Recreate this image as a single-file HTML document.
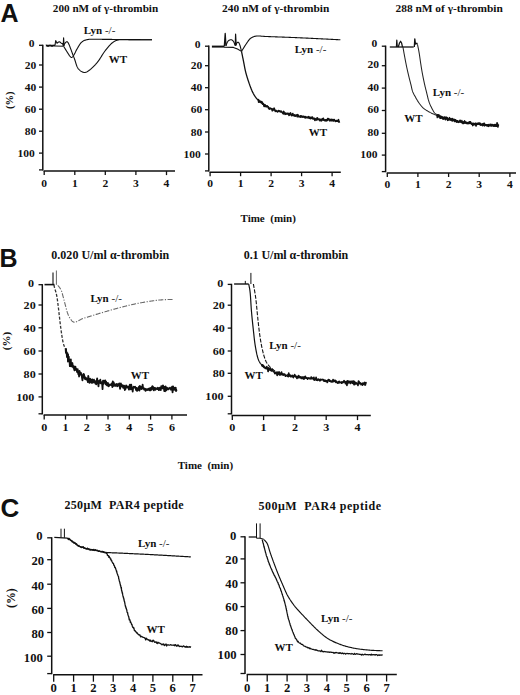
<!DOCTYPE html>
<html><head><meta charset="utf-8"><style>
html,body{margin:0;padding:0;background:#fff;}
svg{display:block;}
text{fill:#111;}
</style></head><body>
<svg width="520" height="695" viewBox="0 0 520 695">
<rect width="520" height="695" fill="#fff"/>
<text x="0.5" y="22.0" font-size="25" font-weight="bold" font-family='"Liberation Sans", sans-serif' text-anchor="start" >A</text>
<text x="-0.5" y="266.6" font-size="25" font-weight="bold" font-family='"Liberation Sans", sans-serif' text-anchor="start" >B</text>
<text x="0.4" y="516.9" font-size="26" font-weight="bold" font-family='"Liberation Sans", sans-serif' text-anchor="start" >C</text>
<line x1="42.8" y1="44.7" x2="42.8" y2="170.5" stroke="#111" stroke-width="1.5"/>
<line x1="39.0" y1="45.3" x2="42.8" y2="45.3" stroke="#111" stroke-width="1.3"/>
<text x="34.5" y="47.4" font-size="10.5" font-weight="bold" font-family='"Liberation Serif", serif' text-anchor="end" textLength="5.78" lengthAdjust="spacingAndGlyphs">0</text>
<line x1="39.0" y1="65.0" x2="42.8" y2="65.0" stroke="#111" stroke-width="1.3"/>
<text x="36.2" y="68.6" font-size="10.5" font-weight="bold" font-family='"Liberation Serif", serif' text-anchor="end" textLength="11.55" lengthAdjust="spacingAndGlyphs">20</text>
<line x1="39.0" y1="87.1" x2="42.8" y2="87.1" stroke="#111" stroke-width="1.3"/>
<text x="36.2" y="90.7" font-size="10.5" font-weight="bold" font-family='"Liberation Serif", serif' text-anchor="end" textLength="11.55" lengthAdjust="spacingAndGlyphs">40</text>
<line x1="39.0" y1="109.2" x2="42.8" y2="109.2" stroke="#111" stroke-width="1.3"/>
<text x="36.2" y="112.8" font-size="10.5" font-weight="bold" font-family='"Liberation Serif", serif' text-anchor="end" textLength="11.55" lengthAdjust="spacingAndGlyphs">60</text>
<line x1="39.0" y1="131.2" x2="42.8" y2="131.2" stroke="#111" stroke-width="1.3"/>
<text x="36.2" y="134.8" font-size="10.5" font-weight="bold" font-family='"Liberation Serif", serif' text-anchor="end" textLength="11.55" lengthAdjust="spacingAndGlyphs">80</text>
<line x1="39.0" y1="153.1" x2="42.8" y2="153.1" stroke="#111" stroke-width="1.3"/>
<text x="34.8" y="156.7" font-size="10.5" font-weight="bold" font-family='"Liberation Serif", serif' text-anchor="end" textLength="17.33" lengthAdjust="spacingAndGlyphs">100</text>
<line x1="39.0" y1="169.9" x2="42.8" y2="169.9" stroke="#111" stroke-width="1.3"/>
<line x1="43.6" y1="171.1" x2="175.0" y2="171.1" stroke="#111" stroke-width="1.5"/>
<line x1="44.2" y1="171.1" x2="44.2" y2="175.1" stroke="#111" stroke-width="1.3"/>
<text x="44.2" y="186.6" font-size="10.5" font-weight="bold" font-family='"Liberation Serif", serif' text-anchor="middle" textLength="5.78" lengthAdjust="spacingAndGlyphs">0</text>
<line x1="74.8" y1="171.1" x2="74.8" y2="175.1" stroke="#111" stroke-width="1.3"/>
<text x="74.8" y="186.6" font-size="10.5" font-weight="bold" font-family='"Liberation Serif", serif' text-anchor="middle" textLength="5.78" lengthAdjust="spacingAndGlyphs">1</text>
<line x1="105.3" y1="171.1" x2="105.3" y2="175.1" stroke="#111" stroke-width="1.3"/>
<text x="105.3" y="186.6" font-size="10.5" font-weight="bold" font-family='"Liberation Serif", serif' text-anchor="middle" textLength="5.78" lengthAdjust="spacingAndGlyphs">2</text>
<line x1="135.9" y1="171.1" x2="135.9" y2="175.1" stroke="#111" stroke-width="1.3"/>
<text x="135.9" y="186.6" font-size="10.5" font-weight="bold" font-family='"Liberation Serif", serif' text-anchor="middle" textLength="5.78" lengthAdjust="spacingAndGlyphs">3</text>
<line x1="166.5" y1="171.1" x2="166.5" y2="175.1" stroke="#111" stroke-width="1.3"/>
<text x="166.5" y="186.6" font-size="10.5" font-weight="bold" font-family='"Liberation Serif", serif' text-anchor="middle" textLength="5.78" lengthAdjust="spacingAndGlyphs">4</text>
<line x1="208.8" y1="45.6" x2="208.8" y2="171.5" stroke="#111" stroke-width="1.5"/>
<line x1="205.0" y1="46.2" x2="208.8" y2="46.2" stroke="#111" stroke-width="1.3"/>
<text x="200.5" y="48.3" font-size="10.5" font-weight="bold" font-family='"Liberation Serif", serif' text-anchor="end" textLength="5.78" lengthAdjust="spacingAndGlyphs">0</text>
<line x1="205.0" y1="65.7" x2="208.8" y2="65.7" stroke="#111" stroke-width="1.3"/>
<text x="202.2" y="69.3" font-size="10.5" font-weight="bold" font-family='"Liberation Serif", serif' text-anchor="end" textLength="11.55" lengthAdjust="spacingAndGlyphs">20</text>
<line x1="205.0" y1="87.7" x2="208.8" y2="87.7" stroke="#111" stroke-width="1.3"/>
<text x="202.2" y="91.3" font-size="10.5" font-weight="bold" font-family='"Liberation Serif", serif' text-anchor="end" textLength="11.55" lengthAdjust="spacingAndGlyphs">40</text>
<line x1="205.0" y1="109.7" x2="208.8" y2="109.7" stroke="#111" stroke-width="1.3"/>
<text x="202.2" y="113.3" font-size="10.5" font-weight="bold" font-family='"Liberation Serif", serif' text-anchor="end" textLength="11.55" lengthAdjust="spacingAndGlyphs">60</text>
<line x1="205.0" y1="132.0" x2="208.8" y2="132.0" stroke="#111" stroke-width="1.3"/>
<text x="202.2" y="135.6" font-size="10.5" font-weight="bold" font-family='"Liberation Serif", serif' text-anchor="end" textLength="11.55" lengthAdjust="spacingAndGlyphs">80</text>
<line x1="205.0" y1="154.0" x2="208.8" y2="154.0" stroke="#111" stroke-width="1.3"/>
<text x="200.8" y="157.6" font-size="10.5" font-weight="bold" font-family='"Liberation Serif", serif' text-anchor="end" textLength="17.33" lengthAdjust="spacingAndGlyphs">100</text>
<line x1="205.0" y1="170.9" x2="208.8" y2="170.9" stroke="#111" stroke-width="1.3"/>
<line x1="209.5" y1="172.2" x2="340.8" y2="172.2" stroke="#111" stroke-width="1.5"/>
<line x1="210.1" y1="172.2" x2="210.1" y2="176.2" stroke="#111" stroke-width="1.3"/>
<text x="210.1" y="187.3" font-size="10.5" font-weight="bold" font-family='"Liberation Serif", serif' text-anchor="middle" textLength="5.78" lengthAdjust="spacingAndGlyphs">0</text>
<line x1="240.6" y1="172.2" x2="240.6" y2="176.2" stroke="#111" stroke-width="1.3"/>
<text x="240.6" y="187.3" font-size="10.5" font-weight="bold" font-family='"Liberation Serif", serif' text-anchor="middle" textLength="5.78" lengthAdjust="spacingAndGlyphs">1</text>
<line x1="271.1" y1="172.2" x2="271.1" y2="176.2" stroke="#111" stroke-width="1.3"/>
<text x="271.1" y="187.3" font-size="10.5" font-weight="bold" font-family='"Liberation Serif", serif' text-anchor="middle" textLength="5.78" lengthAdjust="spacingAndGlyphs">2</text>
<line x1="301.6" y1="172.2" x2="301.6" y2="176.2" stroke="#111" stroke-width="1.3"/>
<text x="301.6" y="187.3" font-size="10.5" font-weight="bold" font-family='"Liberation Serif", serif' text-anchor="middle" textLength="5.78" lengthAdjust="spacingAndGlyphs">3</text>
<line x1="332.1" y1="172.2" x2="332.1" y2="176.2" stroke="#111" stroke-width="1.3"/>
<text x="332.1" y="187.3" font-size="10.5" font-weight="bold" font-family='"Liberation Serif", serif' text-anchor="middle" textLength="5.78" lengthAdjust="spacingAndGlyphs">4</text>
<line x1="385.6" y1="45.6" x2="385.6" y2="172.2" stroke="#111" stroke-width="1.5"/>
<line x1="381.8" y1="46.2" x2="385.6" y2="46.2" stroke="#111" stroke-width="1.3"/>
<text x="377.3" y="47.3" font-size="10.5" font-weight="bold" font-family='"Liberation Serif", serif' text-anchor="end" textLength="5.78" lengthAdjust="spacingAndGlyphs">0</text>
<line x1="381.8" y1="65.7" x2="385.6" y2="65.7" stroke="#111" stroke-width="1.3"/>
<text x="379.0" y="68.3" font-size="10.5" font-weight="bold" font-family='"Liberation Serif", serif' text-anchor="end" textLength="11.55" lengthAdjust="spacingAndGlyphs">20</text>
<line x1="381.8" y1="88.1" x2="385.6" y2="88.1" stroke="#111" stroke-width="1.3"/>
<text x="379.0" y="90.7" font-size="10.5" font-weight="bold" font-family='"Liberation Serif", serif' text-anchor="end" textLength="11.55" lengthAdjust="spacingAndGlyphs">40</text>
<line x1="381.8" y1="110.5" x2="385.6" y2="110.5" stroke="#111" stroke-width="1.3"/>
<text x="379.0" y="113.1" font-size="10.5" font-weight="bold" font-family='"Liberation Serif", serif' text-anchor="end" textLength="11.55" lengthAdjust="spacingAndGlyphs">60</text>
<line x1="381.8" y1="133.3" x2="385.6" y2="133.3" stroke="#111" stroke-width="1.3"/>
<text x="379.0" y="135.9" font-size="10.5" font-weight="bold" font-family='"Liberation Serif", serif' text-anchor="end" textLength="11.55" lengthAdjust="spacingAndGlyphs">80</text>
<line x1="381.8" y1="155.1" x2="385.6" y2="155.1" stroke="#111" stroke-width="1.3"/>
<text x="377.6" y="157.7" font-size="10.5" font-weight="bold" font-family='"Liberation Serif", serif' text-anchor="end" textLength="17.33" lengthAdjust="spacingAndGlyphs">100</text>
<line x1="381.8" y1="171.6" x2="385.6" y2="171.6" stroke="#111" stroke-width="1.3"/>
<line x1="386.7" y1="173.0" x2="516.0" y2="173.0" stroke="#111" stroke-width="1.5"/>
<line x1="387.3" y1="173.0" x2="387.3" y2="177.0" stroke="#111" stroke-width="1.3"/>
<text x="387.3" y="188.4" font-size="10.5" font-weight="bold" font-family='"Liberation Serif", serif' text-anchor="middle" textLength="5.78" lengthAdjust="spacingAndGlyphs">0</text>
<line x1="417.9" y1="173.0" x2="417.9" y2="177.0" stroke="#111" stroke-width="1.3"/>
<text x="417.9" y="188.4" font-size="10.5" font-weight="bold" font-family='"Liberation Serif", serif' text-anchor="middle" textLength="5.78" lengthAdjust="spacingAndGlyphs">1</text>
<line x1="448.6" y1="173.0" x2="448.6" y2="177.0" stroke="#111" stroke-width="1.3"/>
<text x="448.6" y="188.4" font-size="10.5" font-weight="bold" font-family='"Liberation Serif", serif' text-anchor="middle" textLength="5.78" lengthAdjust="spacingAndGlyphs">2</text>
<line x1="479.2" y1="173.0" x2="479.2" y2="177.0" stroke="#111" stroke-width="1.3"/>
<text x="479.2" y="188.4" font-size="10.5" font-weight="bold" font-family='"Liberation Serif", serif' text-anchor="middle" textLength="5.78" lengthAdjust="spacingAndGlyphs">3</text>
<line x1="509.9" y1="173.0" x2="509.9" y2="177.0" stroke="#111" stroke-width="1.3"/>
<text x="509.9" y="188.4" font-size="10.5" font-weight="bold" font-family='"Liberation Serif", serif' text-anchor="middle" textLength="5.78" lengthAdjust="spacingAndGlyphs">4</text>
<text x="0" y="0" font-size="10.5" font-weight="bold" font-family='"Liberation Serif", serif' text-anchor="middle" transform="translate(9.0,100.3) rotate(-90)" dominant-baseline="central">(%)</text>
<text x="52.8" y="12.4" font-size="11.2" font-weight="bold" font-family='"Liberation Serif", serif' text-anchor="start" >200 nM of γ-thrombin</text>
<text x="222.0" y="12.0" font-size="11.4" font-weight="bold" font-family='"Liberation Serif", serif' text-anchor="start" >240 nM of γ-thrombin</text>
<text x="395.5" y="12.0" font-size="11.4" font-weight="bold" font-family='"Liberation Serif", serif' text-anchor="start" >288 nM of γ-thrombin</text>
<text x="240.5" y="221.6" font-size="11" font-weight="bold" font-family='"Liberation Serif", serif' text-anchor="start" >Time&#160;&#160;(min)</text>
<path d="M45.90,45.70 L55.10,45.60" fill="none" stroke="#111" stroke-width="1.8" stroke-linejoin="round"/>
<path d="M45.90,44.80 L48.00,46.60 L50.00,44.90 L52.00,46.50 L54.00,45.00 L55.10,45.80" fill="none" stroke="#111" stroke-width="1.0" stroke-linejoin="round"/>
<path d="M55.10,46.00 L63.60,46.20" fill="none" stroke="#111" stroke-width="1.1" stroke-linejoin="round"/>
<path d="M55.00,45.30 L55.70,40.60 L57.00,43.20 L58.50,42.00 L59.80,41.80 L61.20,43.20 L62.60,43.60 L63.30,45.20" fill="none" stroke="#111" stroke-width="1.1" stroke-linejoin="round"/>
<path d="M63.20,46.00 L63.60,37.90 L64.10,46.00" fill="none" stroke="#111" stroke-width="1.1" stroke-linejoin="round"/>
<path d="M63.60,45.50 L63.86,45.07 L64.23,44.45 L64.66,43.75 L65.10,43.09 L65.50,42.60 L66.08,42.05 L66.63,41.73 L67.20,41.80 L67.52,42.00 L67.82,42.29 L68.14,42.75 L68.52,43.46 L69.00,44.50 L69.17,44.90 L69.36,45.35 L69.56,45.85 L69.78,46.39 L70.00,46.97 L70.23,47.58 L70.47,48.21 L70.72,48.86 L70.96,49.52 L71.20,50.17 L71.44,50.82 L71.68,51.46 L71.91,52.07 L72.12,52.66 L72.33,53.22 L72.52,53.73 L72.70,54.20 L72.99,54.96 L73.23,55.61 L73.44,56.16 L73.63,56.67 L73.82,57.15 L74.00,57.64 L74.20,58.17 L74.43,58.78 L74.70,59.50 L74.88,59.99 L75.06,60.53 L75.24,61.11 L75.42,61.72 L75.61,62.35 L75.81,62.99 L76.01,63.65 L76.22,64.30 L76.44,64.95 L76.67,65.59 L76.91,66.20 L77.16,66.78 L77.42,67.34 L77.70,67.84 L78.00,68.30 L78.43,68.87 L78.90,69.42 L79.40,69.93 L79.93,70.41 L80.47,70.85 L81.02,71.24 L81.59,71.59 L82.15,71.88 L82.71,72.11 L83.26,72.29 L83.80,72.40 L84.37,72.45 L84.92,72.43 L85.47,72.34 L86.01,72.18 L86.56,71.96 L87.11,71.68 L87.69,71.34 L88.29,70.95 L88.93,70.50 L89.60,70.00 L89.97,69.71 L90.36,69.40 L90.76,69.06 L91.18,68.71 L91.60,68.33 L92.03,67.94 L92.47,67.53 L92.91,67.11 L93.36,66.67 L93.81,66.22 L94.26,65.77 L94.71,65.30 L95.15,64.82 L95.60,64.34 L96.03,63.86 L96.46,63.37 L96.89,62.88 L97.30,62.39 L97.70,61.90 L98.07,61.43 L98.44,60.94 L98.80,60.44 L99.16,59.93 L99.51,59.41 L99.86,58.87 L100.20,58.33 L100.55,57.79 L100.89,57.24 L101.23,56.69 L101.56,56.14 L101.90,55.60 L102.23,55.05 L102.57,54.52 L102.90,53.99 L103.24,53.46 L103.58,52.95 L103.92,52.45 L104.26,51.97 L104.60,51.50 L105.01,50.96 L105.42,50.42 L105.83,49.88 L106.25,49.35 L106.66,48.83 L107.08,48.31 L107.50,47.80 L107.91,47.30 L108.33,46.81 L108.74,46.34 L109.15,45.88 L109.55,45.44 L109.95,45.01 L110.35,44.60 L110.74,44.21 L111.12,43.84 L111.50,43.50 L112.06,43.01 L112.60,42.58 L113.11,42.19 L113.61,41.84 L114.10,41.53 L114.60,41.25 L115.10,41.00 L115.61,40.78 L116.14,40.57 L116.71,40.38 L117.30,40.20 L117.81,40.05 L118.25,39.93 L118.64,39.84 L119.01,39.77 L119.40,39.72 L119.82,39.68 L120.33,39.66 L120.93,39.64 L121.67,39.63 L122.58,39.62 L123.68,39.61 L125.00,39.60 L125.40,39.60 L125.83,39.59 L126.30,39.59 L126.79,39.59 L127.30,39.59 L127.84,39.59 L128.41,39.59 L128.99,39.59 L129.60,39.59 L130.22,39.59 L130.86,39.60 L131.52,39.60 L132.19,39.61 L132.88,39.61 L133.57,39.61 L134.27,39.62 L134.99,39.63 L135.71,39.63 L136.43,39.64 L137.16,39.64 L137.89,39.65 L138.62,39.66 L139.35,39.67 L140.07,39.67 L140.79,39.68 L141.51,39.69 L142.22,39.70 L142.92,39.70 L143.61,39.71 L144.29,39.72 L144.95,39.73 L145.60,39.73 L146.23,39.74 L146.85,39.75 L147.44,39.75 L148.02,39.76 L148.57,39.77 L149.10,39.77 L149.60,39.78 L150.08,39.78 L150.53,39.79 L150.94,39.79 L151.33,39.79 L151.68,39.80 L152.00,39.80" fill="none" stroke="#111" stroke-width="1.1" stroke-linejoin="round"/>
<path d="M63.60,46.30 L63.80,46.62 L64.05,47.03 L64.35,47.52 L64.69,48.06 L65.05,48.65 L65.43,49.26 L65.81,49.88 L66.19,50.49 L66.56,51.07 L66.90,51.60 L67.27,52.18 L67.64,52.78 L68.01,53.39 L68.39,53.99 L68.76,54.57 L69.12,55.11 L69.46,55.61 L69.79,56.04 L70.10,56.40 L70.87,57.13 L71.51,57.41 L72.20,57.20 L72.54,56.92 L72.89,56.52 L73.26,56.01 L73.63,55.43 L74.00,54.82 L74.36,54.19 L74.70,53.60 L74.97,53.11 L75.21,52.61 L75.44,52.12 L75.67,51.61 L75.91,51.07 L76.19,50.49 L76.51,49.88 L76.90,49.20 L77.17,48.74 L77.46,48.23 L77.77,47.69 L78.10,47.12 L78.44,46.54 L78.79,45.94 L79.16,45.35 L79.53,44.76 L79.92,44.20 L80.31,43.66 L80.70,43.16 L81.10,42.70 L81.50,42.30 L82.02,41.85 L82.55,41.45 L83.08,41.11 L83.62,40.80 L84.18,40.54 L84.76,40.31 L85.35,40.10 L85.97,39.92 L86.62,39.75 L87.30,39.60 L87.80,39.50 L88.25,39.42 L88.67,39.36 L89.08,39.31 L89.50,39.29 L89.94,39.27 L90.43,39.27 L90.98,39.27 L91.62,39.28 L92.36,39.29 L93.22,39.29 L94.23,39.30 L95.40,39.30 L95.81,39.30 L96.23,39.30 L96.66,39.30 L97.11,39.30 L97.58,39.30 L98.05,39.30 L98.54,39.30 L99.04,39.31 L99.56,39.31 L100.08,39.31 L100.62,39.32 L101.17,39.32 L101.73,39.32 L102.29,39.33 L102.87,39.33 L103.46,39.34 L104.06,39.34 L104.66,39.35 L105.27,39.35 L105.89,39.36 L106.52,39.37 L107.16,39.37 L107.80,39.38 L108.44,39.38 L109.10,39.39 L109.76,39.40 L110.42,39.41 L111.09,39.41 L111.76,39.42 L112.43,39.43 L113.11,39.43 L113.79,39.44 L114.48,39.45 L115.17,39.45 L115.85,39.46 L116.54,39.47 L117.24,39.47 L117.93,39.48 L118.62,39.49 L119.31,39.49 L120.00,39.50 L120.54,39.50 L121.10,39.51 L121.67,39.51 L122.26,39.52 L122.86,39.53 L123.48,39.53 L124.10,39.54 L124.74,39.54 L125.38,39.55 L126.04,39.55 L126.71,39.56 L127.38,39.57 L128.06,39.57 L128.75,39.58 L129.44,39.59 L130.13,39.59 L130.83,39.60 L131.54,39.61 L132.24,39.61 L132.95,39.62 L133.66,39.63 L134.37,39.63 L135.08,39.64 L135.78,39.65 L136.49,39.65 L137.19,39.66 L137.89,39.67 L138.58,39.67 L139.26,39.68 L139.94,39.69 L140.62,39.69 L141.28,39.70 L141.94,39.70 L142.58,39.71 L143.22,39.72 L143.85,39.72 L144.46,39.73 L145.06,39.73 L145.65,39.74 L146.22,39.75 L146.78,39.75 L147.32,39.76 L147.84,39.76 L148.35,39.77 L148.84,39.77 L149.31,39.77 L149.76,39.78 L150.19,39.78 L150.60,39.79 L150.98,39.79 L151.35,39.79 L151.69,39.80 L152.00,39.80" fill="none" stroke="#111" stroke-width="1.1" stroke-linejoin="round"/>
<text x="83.8" y="34.3" font-size="11" font-family='"Liberation Serif", serif' ><tspan font-weight="bold">Lyn</tspan> -/-</text>
<text x="108.8" y="62.7" font-size="11" font-weight="bold" font-family='"Liberation Serif", serif' text-anchor="start" >WT</text>
<path d="M211.90,46.60 L224.00,46.60" fill="none" stroke="#111" stroke-width="2.0" stroke-linejoin="round"/>
<path d="M224.30,46.50 L225.20,33.50 L226.00,46.00" fill="none" stroke="#111" stroke-width="1.3" stroke-linejoin="round"/>
<path d="M224.00,47.20 L233.40,47.40 L237.50,49.00 L241.50,51.40" fill="none" stroke="#111" stroke-width="1.1" stroke-linejoin="round"/>
<path d="M226.00,45.50 L226.17,45.09 L226.40,44.50 L226.66,43.81 L226.97,43.07 L227.30,42.35 L227.64,41.70 L228.00,41.20 L228.54,40.67 L229.15,40.24 L229.79,39.93 L230.42,39.74 L231.00,39.70 L231.55,39.82 L232.08,40.10 L232.60,40.50 L233.07,40.98 L233.50,41.50 L233.83,42.03 L234.13,42.67 L234.41,43.36 L234.65,44.03 L234.85,44.60 L235.00,45.00" fill="none" stroke="#111" stroke-width="1.1" stroke-linejoin="round"/>
<path d="M235.20,46.00 L235.60,34.20 L236.20,45.50" fill="none" stroke="#111" stroke-width="1.2" stroke-linejoin="round"/>
<path d="M235.80,45.00 L236.01,44.56 L236.31,43.93 L236.65,43.28 L237.00,42.80 L237.73,42.21 L238.50,42.30 L238.80,42.66 L239.10,43.18 L239.40,43.85 L239.70,44.63 L240.00,45.50 L240.16,46.01 L240.32,46.60 L240.50,47.26 L240.67,47.95 L240.84,48.65 L241.01,49.34 L241.16,49.98 L241.30,50.55 L241.41,51.04 L241.50,51.40" fill="none" stroke="#111" stroke-width="1.1" stroke-linejoin="round"/>
<path d="M241.50,51.40 L241.69,51.10 L241.92,50.72 L242.19,50.29 L242.49,49.80 L242.81,49.26 L243.16,48.69 L243.53,48.10 L243.91,47.49 L244.30,46.87 L244.69,46.25 L245.07,45.64 L245.45,45.05 L245.82,44.49 L246.17,43.97 L246.50,43.50 L246.92,42.90 L247.32,42.31 L247.71,41.73 L248.10,41.18 L248.48,40.64 L248.86,40.13 L249.25,39.64 L249.66,39.18 L250.08,38.75 L250.53,38.36 L251.00,38.00 L251.49,37.68 L252.00,37.39 L252.51,37.13 L253.04,36.91 L253.58,36.71 L254.14,36.54 L254.72,36.40 L255.32,36.27 L255.95,36.16 L256.61,36.07 L257.30,36.00 L257.78,35.96 L258.19,35.94 L258.57,35.93 L258.91,35.93 L259.25,35.95 L259.60,35.98 L259.99,36.02 L260.43,36.07 L260.93,36.12 L261.53,36.18 L262.23,36.24 L263.06,36.31 L264.03,36.37 L265.18,36.44 L266.50,36.50 L266.90,36.52 L267.30,36.53 L267.73,36.55 L268.16,36.57 L268.61,36.59 L269.07,36.60 L269.54,36.62 L270.02,36.64 L270.51,36.66 L271.02,36.68 L271.53,36.70 L272.06,36.72 L272.60,36.74 L273.14,36.76 L273.70,36.78 L274.26,36.80 L274.83,36.82 L275.42,36.84 L276.01,36.86 L276.60,36.88 L277.21,36.91 L277.82,36.93 L278.44,36.95 L279.06,36.97 L279.70,37.00 L280.33,37.02 L280.98,37.04 L281.62,37.07 L282.28,37.09 L282.94,37.12 L283.60,37.14 L284.27,37.17 L284.94,37.19 L285.61,37.22 L286.29,37.24 L286.97,37.27 L287.65,37.29 L288.33,37.32 L289.02,37.35 L289.71,37.37 L290.40,37.40 L291.09,37.43 L291.78,37.45 L292.47,37.48 L293.16,37.51 L293.85,37.54 L294.54,37.57 L295.23,37.59 L295.92,37.62 L296.60,37.65 L297.29,37.68 L297.97,37.71 L298.65,37.74 L299.33,37.77 L300.00,37.80 L300.56,37.83 L301.13,37.85 L301.71,37.88 L302.30,37.90 L302.90,37.93 L303.51,37.96 L304.13,37.99 L304.76,38.02 L305.40,38.05 L306.04,38.08 L306.69,38.11 L307.35,38.14 L308.02,38.17 L308.69,38.21 L309.37,38.24 L310.05,38.27 L310.73,38.31 L311.42,38.34 L312.12,38.37 L312.82,38.41 L313.52,38.44 L314.22,38.48 L314.92,38.51 L315.63,38.55 L316.33,38.58 L317.04,38.62 L317.74,38.65 L318.45,38.69 L319.15,38.72 L319.85,38.76 L320.56,38.79 L321.25,38.83 L321.95,38.86 L322.64,38.90 L323.33,38.93 L324.01,38.97 L324.69,39.00 L325.36,39.04 L326.03,39.07 L326.69,39.10 L327.34,39.14 L327.99,39.17 L328.62,39.20 L329.25,39.23 L329.88,39.27 L330.49,39.30 L331.09,39.33 L331.68,39.36 L332.27,39.39 L332.84,39.42 L333.40,39.45 L333.95,39.47 L334.48,39.50 L335.00,39.53 L335.51,39.55 L336.01,39.58 L336.49,39.60 L336.95,39.63 L337.40,39.65 L337.84,39.67 L338.26,39.69 L338.66,39.71 L339.04,39.73 L339.41,39.75 L339.76,39.77 L340.09,39.78 L340.40,39.80" fill="none" stroke="#111" stroke-width="1.1" stroke-linejoin="round"/>
<path d="M241.50,51.40 L241.57,51.74 L241.65,52.15 L241.75,52.62 L241.86,53.14 L241.97,53.72 L242.10,54.33 L242.23,54.97 L242.37,55.64 L242.51,56.34 L242.65,57.04 L242.80,57.76 L242.95,58.47 L243.09,59.18 L243.23,59.87 L243.37,60.55 L243.50,61.20 L243.62,61.80 L243.74,62.40 L243.85,63.01 L243.96,63.62 L244.08,64.23 L244.19,64.85 L244.30,65.47 L244.42,66.09 L244.53,66.71 L244.65,67.33 L244.77,67.96 L244.90,68.58 L245.03,69.21 L245.16,69.83 L245.30,70.46 L245.45,71.08 L245.60,71.70 L245.75,72.29 L245.90,72.87 L246.06,73.46 L246.22,74.05 L246.38,74.64 L246.55,75.23 L246.72,75.81 L246.89,76.40 L247.07,76.99 L247.25,77.58 L247.43,78.17 L247.62,78.76 L247.81,79.35 L248.00,79.94 L248.20,80.53 L248.39,81.12 L248.60,81.71 L248.80,82.30 L249.00,82.86 L249.19,83.43 L249.40,84.01 L249.60,84.59 L249.81,85.17 L250.01,85.76 L250.23,86.34 L250.44,86.93 L250.66,87.51 L250.88,88.09 L251.10,88.66 L251.33,89.23 L251.56,89.79 L251.79,90.34 L252.03,90.88 L252.26,91.41 L252.51,91.92 L252.75,92.42 L253.00,92.90 L253.31,93.49 L253.63,94.06 L253.94,94.60 L254.25,95.13 L254.57,95.64 L254.89,96.14 L255.22,96.63 L255.56,97.11 L255.90,97.57 L256.26,98.03 L256.64,98.49 L257.02,98.94 L257.43,99.39 L257.85,99.85 L258.30,100.30 L258.73,100.71 L259.20,101.13 L259.70,101.56 L260.24,101.99 L260.80,102.43 L261.37,102.86 L261.96,103.29 L262.54,103.71 L263.12,104.12 L263.68,104.51 L264.23,104.89 L264.75,105.24 L265.24,105.57 L265.68,105.88 L266.08,106.15 L266.42,106.40 L266.70,106.60" fill="none" stroke="#111" stroke-width="1.3" stroke-linejoin="round"/>
<path d="M258.30,100.16 L258.50,99.78 L258.72,102.21 L258.97,101.05 L259.23,100.87 L259.53,101.23 L259.84,101.81 L260.17,101.30 L260.51,101.83 L260.88,102.30 L261.25,102.08 L261.64,101.77 L262.04,102.12 L262.45,103.61 L262.86,104.09 L263.28,103.71 L263.71,104.63 L264.14,106.33 L264.57,105.87 L265.00,104.93 L265.43,106.24 L265.86,106.48 L266.28,106.21 L266.70,106.61 L267.08,105.82 L267.47,106.53 L267.86,106.62 L268.25,107.01 L268.65,108.17 L269.05,108.71 L269.45,108.97 L269.86,108.10 L270.27,108.27 L270.68,108.40 L271.10,108.81 L271.52,108.96 L271.94,109.01 L272.37,110.68 L272.80,109.28 L273.24,109.78 L273.68,109.22 L274.12,108.28 L274.56,109.99 L275.01,110.34 L275.46,111.29 L275.92,110.51 L276.37,110.99 L276.84,111.27 L277.30,111.65 L277.70,111.79 L278.11,111.13 L278.53,110.71 L278.94,111.15 L279.37,110.95 L279.79,111.17 L280.22,111.91 L280.65,111.74 L281.09,111.16 L281.52,111.85 L281.96,112.15 L282.41,112.51 L282.85,113.14 L283.30,113.77 L283.74,111.52 L284.19,113.24 L284.64,113.28 L285.09,114.24 L285.54,113.11 L285.99,114.17 L286.44,113.75 L286.89,113.61 L287.34,113.47 L287.78,114.07 L288.23,113.43 L288.68,114.36 L289.12,115.27 L289.56,114.74 L290.00,113.56 L290.45,112.88 L290.91,114.64 L291.37,115.05 L291.83,115.57 L292.30,114.88 L292.76,113.70 L293.22,115.26 L293.69,115.56 L294.16,115.63 L294.62,114.85 L295.09,116.13 L295.55,115.92 L296.02,115.59 L296.48,115.04 L296.94,115.24 L297.40,116.64 L297.86,114.79 L298.32,116.69 L298.77,116.21 L299.22,116.28 L299.67,116.74 L300.12,116.99 L300.56,115.85 L301.00,115.82 L301.43,116.92 L301.86,116.23 L302.28,116.63 L302.70,117.00 L303.20,116.33 L303.68,116.56 L304.16,117.29 L304.62,116.68 L305.07,117.50 L305.52,116.80 L305.96,117.77 L306.39,117.16 L306.82,117.43 L307.25,117.16 L307.68,117.69 L308.11,117.77 L308.54,116.79 L308.97,117.01 L309.41,117.97 L309.86,117.33 L310.32,118.54 L310.78,117.82 L311.26,117.37 L311.75,118.21 L312.25,117.08 L312.77,118.60 L313.30,118.89 L313.70,118.40 L314.10,118.76 L314.51,118.40 L314.94,120.27 L315.37,118.92 L315.80,119.28 L316.25,119.55 L316.70,119.93 L317.15,117.98 L317.61,118.47 L318.08,119.39 L318.54,119.36 L319.02,119.59 L319.49,119.31 L319.96,120.63 L320.44,119.71 L320.91,119.33 L321.39,120.75 L321.86,119.97 L322.34,118.84 L322.81,119.70 L323.28,118.43 L323.75,120.08 L324.21,120.28 L324.67,120.58 L325.12,119.80 L325.57,119.79 L326.01,120.87 L326.44,120.33 L326.87,119.73 L327.29,120.39 L327.70,118.73 L328.22,119.55 L328.76,118.74 L329.30,120.01 L329.84,120.83 L330.38,119.89 L330.93,119.51 L331.48,120.60 L332.02,119.50 L332.56,120.46 L333.10,119.78 L333.63,120.85 L334.14,119.57 L334.65,120.40 L335.15,120.87 L335.63,121.22 L336.10,120.86 L336.54,120.66 L336.97,121.06 L337.38,120.98 L337.77,120.94 L338.13,121.23 L338.46,119.76 L338.77,121.18 L339.05,121.60 L339.30,122.72" fill="none" stroke="#111" stroke-width="1.8" stroke-linejoin="round"/>
<text x="294.8" y="52.9" font-size="11" font-family='"Liberation Serif", serif' ><tspan font-weight="bold">Lyn</tspan> -/-</text>
<text x="308.8" y="135.5" font-size="11" font-weight="bold" font-family='"Liberation Serif", serif' text-anchor="start" >WT</text>
<path d="M389.80,47.00 L413.70,47.00" fill="none" stroke="#111" stroke-width="1.3" stroke-linejoin="round"/>
<path d="M396.40,47.00 L396.80,40.10 L397.30,47.00" fill="none" stroke="#111" stroke-width="1.2" stroke-linejoin="round"/>
<path d="M398.30,47.00 L399.50,43.00 L400.60,41.20 L401.60,43.00 L402.50,47.00" fill="none" stroke="#111" stroke-width="1.2" stroke-linejoin="round"/>
<path d="M414.30,47.00 L414.80,38.90 L415.50,44.00 L416.80,43.20 L417.50,44.50" fill="none" stroke="#111" stroke-width="1.3" stroke-linejoin="round"/>
<path d="M402.90,46.80 L402.96,47.13 L403.03,47.54 L403.11,48.00 L403.20,48.51 L403.30,49.07 L403.40,49.67 L403.51,50.30 L403.63,50.96 L403.75,51.64 L403.87,52.33 L404.00,53.04 L404.12,53.74 L404.25,54.44 L404.38,55.13 L404.50,55.80 L404.60,56.36 L404.71,56.93 L404.82,57.51 L404.93,58.10 L405.04,58.70 L405.16,59.31 L405.28,59.92 L405.39,60.54 L405.51,61.16 L405.63,61.78 L405.75,62.40 L405.87,63.01 L406.00,63.63 L406.12,64.24 L406.24,64.84 L406.36,65.44 L406.48,66.02 L406.60,66.60 L406.73,67.24 L406.87,67.87 L407.01,68.50 L407.14,69.13 L407.28,69.75 L407.42,70.36 L407.56,70.97 L407.69,71.58 L407.83,72.18 L407.97,72.78 L408.11,73.38 L408.25,73.97 L408.39,74.56 L408.52,75.14 L408.66,75.72 L408.80,76.30 L408.96,76.96 L409.12,77.62 L409.28,78.27 L409.45,78.93 L409.61,79.58 L409.77,80.22 L409.94,80.86 L410.10,81.48 L410.26,82.10 L410.42,82.71 L410.57,83.31 L410.72,83.89 L410.86,84.45 L411.00,85.00 L411.18,85.74 L411.34,86.44 L411.49,87.12 L411.63,87.77 L411.77,88.41 L411.91,89.02 L412.06,89.63 L412.22,90.22 L412.40,90.81 L412.60,91.40 L412.82,91.98 L413.06,92.54 L413.31,93.09 L413.58,93.63 L413.85,94.16 L414.13,94.69 L414.42,95.21 L414.71,95.74 L415.00,96.26 L415.30,96.80 L415.59,97.34 L415.89,97.88 L416.19,98.42 L416.49,98.96 L416.80,99.50 L417.12,100.04 L417.44,100.58 L417.78,101.12 L418.13,101.66 L418.50,102.20 L418.85,102.70 L419.20,103.20 L419.56,103.72 L419.94,104.23 L420.32,104.74 L420.71,105.25 L421.11,105.75 L421.52,106.24 L421.94,106.72 L422.36,107.17 L422.80,107.60 L423.25,108.01 L423.71,108.40 L424.19,108.78 L424.68,109.15 L425.18,109.50 L425.68,109.84 L426.19,110.17 L426.70,110.49 L427.20,110.80 L427.70,111.10 L428.20,111.40 L428.75,111.72 L429.30,112.03 L429.87,112.33 L430.43,112.62 L430.99,112.89 L431.55,113.16 L432.09,113.41 L432.62,113.65 L433.12,113.88 L433.60,114.10 L434.38,114.44 L435.16,114.74 L435.89,115.02 L436.54,115.26 L437.09,115.45 L437.50,115.60" fill="none" stroke="#222" stroke-width="1.05" stroke-linejoin="round"/>
<path d="M417.50,44.50 L417.57,44.85 L417.66,45.27 L417.76,45.76 L417.87,46.31 L418.00,46.90 L418.13,47.54 L418.27,48.22 L418.41,48.92 L418.56,49.64 L418.70,50.38 L418.84,51.12 L418.97,51.87 L419.10,52.60 L419.19,53.13 L419.28,53.69 L419.37,54.26 L419.46,54.84 L419.54,55.44 L419.63,56.04 L419.72,56.65 L419.81,57.28 L419.90,57.90 L419.99,58.53 L420.08,59.16 L420.17,59.78 L420.26,60.40 L420.34,61.02 L420.43,61.63 L420.52,62.23 L420.61,62.82 L420.70,63.40 L420.80,64.03 L420.90,64.66 L420.99,65.27 L421.09,65.88 L421.18,66.48 L421.27,67.07 L421.37,67.66 L421.46,68.25 L421.56,68.84 L421.66,69.43 L421.76,70.02 L421.86,70.62 L421.96,71.23 L422.07,71.84 L422.18,72.47 L422.30,73.10 L422.41,73.68 L422.52,74.26 L422.63,74.86 L422.75,75.47 L422.87,76.08 L422.99,76.70 L423.12,77.32 L423.24,77.95 L423.37,78.57 L423.50,79.19 L423.62,79.81 L423.75,80.42 L423.88,81.03 L424.01,81.63 L424.13,82.21 L424.26,82.79 L424.38,83.35 L424.50,83.90 L424.65,84.58 L424.80,85.24 L424.95,85.89 L425.10,86.51 L425.25,87.13 L425.40,87.73 L425.55,88.33 L425.70,88.92 L425.85,89.51 L426.00,90.10 L426.15,90.69 L426.30,91.29 L426.45,91.89 L426.60,92.50 L426.75,93.12 L426.90,93.76 L427.06,94.40 L427.21,95.05 L427.36,95.69 L427.51,96.34 L427.66,96.99 L427.82,97.63 L427.97,98.26 L428.13,98.88 L428.29,99.49 L428.46,100.08 L428.63,100.65 L428.80,101.20 L429.02,101.87 L429.25,102.52 L429.49,103.14 L429.72,103.74 L429.97,104.32 L430.21,104.89 L430.46,105.44 L430.71,105.99 L430.97,106.53 L431.23,107.06 L431.50,107.60 L431.80,108.20 L432.11,108.80 L432.44,109.41 L432.76,110.00 L433.09,110.59 L433.42,111.15 L433.75,111.68 L434.08,112.17 L434.39,112.61 L434.70,113.00 L435.33,113.62 L435.98,114.07 L436.60,114.38 L437.13,114.61 L437.50,114.80" fill="none" stroke="#222" stroke-width="1.05" stroke-linejoin="round"/>
<path d="M437.00,115.74 L437.24,115.02 L437.54,115.99 L437.89,116.09 L438.29,115.56 L438.72,114.81 L439.18,115.85 L439.67,116.34 L440.17,118.22 L440.68,117.94 L441.20,118.22 L441.58,116.89 L441.96,117.56 L442.37,117.14 L442.78,118.66 L443.21,118.99 L443.64,117.39 L444.08,118.76 L444.53,118.50 L444.98,116.97 L445.44,119.56 L445.91,119.07 L446.37,117.64 L446.84,117.82 L447.30,118.46 L447.73,120.27 L448.15,119.82 L448.57,119.71 L448.99,119.48 L449.41,118.04 L449.83,118.86 L450.26,119.96 L450.70,119.78 L451.15,119.83 L451.61,120.08 L452.09,118.54 L452.58,120.56 L453.10,120.34 L453.64,120.36 L454.20,120.12 L454.59,121.43 L454.99,121.54 L455.41,119.76 L455.84,121.21 L456.28,120.97 L456.74,121.51 L457.20,120.91 L457.68,121.13 L458.16,122.13 L458.64,122.30 L459.13,121.45 L459.61,121.26 L460.10,121.82 L460.58,121.87 L461.07,121.85 L461.54,122.36 L462.01,122.15 L462.47,122.19 L462.93,123.30 L463.37,123.32 L463.79,122.32 L464.20,123.09 L464.60,122.12 L465.14,122.39 L465.65,123.04 L466.14,122.93 L466.60,123.34 L467.05,122.80 L467.48,123.26 L467.91,123.64 L468.33,123.48 L468.75,122.43 L469.17,123.47 L469.60,123.02 L470.04,122.14 L470.50,123.03 L470.98,123.39 L471.47,123.99 L472.00,123.23 L472.40,123.89 L472.81,125.51 L473.24,124.34 L473.67,123.30 L474.12,124.73 L474.57,123.92 L475.03,124.33 L475.49,123.27 L475.96,125.94 L476.43,124.11 L476.91,123.76 L477.38,123.44 L477.85,124.29 L478.33,123.29 L478.80,123.12 L479.26,124.04 L479.72,123.98 L480.18,124.84 L480.62,124.51 L481.06,125.15 L481.48,124.66 L481.90,124.70 L482.39,125.03 L482.88,124.20 L483.35,123.53 L483.82,124.93 L484.27,123.29 L484.72,125.70 L485.17,124.56 L485.61,125.00 L486.04,124.89 L486.48,125.44 L486.91,124.97 L487.34,125.88 L487.78,125.17 L488.21,124.73 L488.65,126.27 L489.10,125.10 L489.55,125.23 L490.00,125.67 L490.47,125.46 L490.97,125.73 L491.48,125.59 L492.01,124.49 L492.55,125.48 L493.09,125.41 L493.63,125.53 L494.17,126.15 L494.71,125.83 L495.23,125.79 L495.73,126.21 L496.21,126.25 L496.67,126.15 L497.09,122.88 L497.48,124.30 L497.83,126.91 L498.14,125.84 L498.40,124.55" fill="none" stroke="#111" stroke-width="1.7" stroke-linejoin="round"/>
<path d="M437.00,115.74 L437.24,117.64 L437.50,115.31 L437.78,114.56 L438.09,115.94 L438.42,116.95 L438.78,117.06 L439.15,116.64 L439.54,116.27 L439.96,115.90 L440.39,116.46 L440.84,116.00 L441.30,117.03 L441.79,116.63 L442.28,117.51 L442.79,118.65 L443.32,117.66 L443.86,117.84 L444.40,117.80 L444.96,118.40 L445.54,117.95 L446.12,117.97 L446.70,117.23 L447.30,117.69 L447.66,118.88 L448.03,118.89 L448.40,119.83 L448.79,119.05 L449.18,118.31 L449.58,117.55 L449.98,119.94 L450.40,118.66 L450.81,119.83 L451.24,118.91 L451.67,119.09 L452.11,121.13 L452.55,119.68 L452.99,118.77 L453.44,120.25 L453.90,120.20 L454.36,119.26 L454.82,120.18 L455.28,120.77 L455.75,120.13 L456.21,120.67 L456.68,122.27 L457.16,120.54 L457.63,120.94 L458.10,121.89 L458.57,121.50 L459.05,121.47 L459.52,121.32 L459.99,120.10 L460.46,120.53 L460.93,121.14 L461.40,122.62 L461.87,120.34 L462.33,121.94 L462.79,122.07 L463.25,122.64 L463.70,121.65 L464.15,122.93 L464.60,120.73 L465.06,122.02 L465.51,121.98 L465.97,121.98 L466.43,122.66 L466.88,122.32 L467.34,122.63 L467.80,122.53 L468.26,122.74 L468.71,122.43 L469.17,122.41 L469.63,121.63 L470.09,123.09 L470.55,121.60 L471.01,123.18 L471.47,123.80 L471.93,123.63 L472.38,123.56 L472.84,123.71 L473.30,123.90 L473.76,123.88 L474.22,123.63 L474.67,123.86 L475.13,123.48 L475.59,123.73 L476.04,124.39 L476.50,123.40 L476.95,123.96 L477.40,123.56 L477.86,124.15 L478.31,123.73 L478.76,123.56 L479.21,124.07 L479.66,122.86 L480.11,123.09 L480.56,123.81 L481.01,124.70 L481.45,124.08 L481.90,124.03 L482.38,124.01 L482.86,125.97 L483.36,123.81 L483.86,124.81 L484.37,125.79 L484.89,125.16 L485.41,124.58 L485.94,124.56 L486.47,125.52 L487.00,125.55 L487.54,124.98 L488.07,124.84 L488.60,125.05 L489.14,125.04 L489.67,125.24 L490.19,124.01 L490.72,125.11 L491.23,125.95 L491.74,124.63 L492.24,125.65 L492.74,124.96 L493.22,126.41 L493.69,124.74 L494.15,124.78 L494.60,124.43 L495.03,125.52 L495.45,124.41 L495.86,125.77 L496.24,126.14 L496.61,125.45 L496.96,124.33 L497.30,125.04 L497.61,124.13 L497.89,124.94 L498.16,124.82 L498.40,125.56" fill="none" stroke="#111" stroke-width="1.3" stroke-linejoin="round"/>
<text x="432.7" y="96.2" font-size="11" font-family='"Liberation Serif", serif' ><tspan font-weight="bold">Lyn</tspan> -/-</text>
<text x="404.2" y="121.5" font-size="11" font-weight="bold" font-family='"Liberation Serif", serif' text-anchor="start" >WT</text>
<line x1="42.3" y1="284.1" x2="42.3" y2="414.4" stroke="#111" stroke-width="1.5"/>
<line x1="38.5" y1="284.7" x2="42.3" y2="284.7" stroke="#111" stroke-width="1.3"/>
<text x="34.0" y="287.3" font-size="11" font-weight="bold" font-family='"Liberation Serif", serif' text-anchor="end" textLength="6.05" lengthAdjust="spacingAndGlyphs">0</text>
<line x1="38.5" y1="305.0" x2="42.3" y2="305.0" stroke="#111" stroke-width="1.3"/>
<text x="35.7" y="309.1" font-size="11" font-weight="bold" font-family='"Liberation Serif", serif' text-anchor="end" textLength="12.10" lengthAdjust="spacingAndGlyphs">20</text>
<line x1="38.5" y1="327.8" x2="42.3" y2="327.8" stroke="#111" stroke-width="1.3"/>
<text x="35.7" y="331.9" font-size="11" font-weight="bold" font-family='"Liberation Serif", serif' text-anchor="end" textLength="12.10" lengthAdjust="spacingAndGlyphs">40</text>
<line x1="38.5" y1="351.0" x2="42.3" y2="351.0" stroke="#111" stroke-width="1.3"/>
<text x="35.7" y="355.1" font-size="11" font-weight="bold" font-family='"Liberation Serif", serif' text-anchor="end" textLength="12.10" lengthAdjust="spacingAndGlyphs">60</text>
<line x1="38.5" y1="374.0" x2="42.3" y2="374.0" stroke="#111" stroke-width="1.3"/>
<text x="35.7" y="378.1" font-size="11" font-weight="bold" font-family='"Liberation Serif", serif' text-anchor="end" textLength="12.10" lengthAdjust="spacingAndGlyphs">80</text>
<line x1="38.5" y1="396.9" x2="42.3" y2="396.9" stroke="#111" stroke-width="1.3"/>
<text x="34.3" y="401.0" font-size="11" font-weight="bold" font-family='"Liberation Serif", serif' text-anchor="end" textLength="18.15" lengthAdjust="spacingAndGlyphs">100</text>
<line x1="38.5" y1="413.8" x2="42.3" y2="413.8" stroke="#111" stroke-width="1.3"/>
<line x1="43.6" y1="415.0" x2="187.0" y2="415.0" stroke="#111" stroke-width="1.5"/>
<line x1="44.2" y1="415.0" x2="44.2" y2="419.6" stroke="#111" stroke-width="1.3"/>
<text x="44.2" y="431.0" font-size="11" font-weight="bold" font-family='"Liberation Serif", serif' text-anchor="middle" textLength="6.05" lengthAdjust="spacingAndGlyphs">0</text>
<line x1="65.5" y1="415.0" x2="65.5" y2="419.6" stroke="#111" stroke-width="1.3"/>
<text x="65.5" y="431.0" font-size="11" font-weight="bold" font-family='"Liberation Serif", serif' text-anchor="middle" textLength="6.05" lengthAdjust="spacingAndGlyphs">1</text>
<line x1="86.8" y1="415.0" x2="86.8" y2="419.6" stroke="#111" stroke-width="1.3"/>
<text x="86.8" y="431.0" font-size="11" font-weight="bold" font-family='"Liberation Serif", serif' text-anchor="middle" textLength="6.05" lengthAdjust="spacingAndGlyphs">2</text>
<line x1="108.0" y1="415.0" x2="108.0" y2="419.6" stroke="#111" stroke-width="1.3"/>
<text x="108.0" y="431.0" font-size="11" font-weight="bold" font-family='"Liberation Serif", serif' text-anchor="middle" textLength="6.05" lengthAdjust="spacingAndGlyphs">3</text>
<line x1="129.3" y1="415.0" x2="129.3" y2="419.6" stroke="#111" stroke-width="1.3"/>
<text x="129.3" y="431.0" font-size="11" font-weight="bold" font-family='"Liberation Serif", serif' text-anchor="middle" textLength="6.05" lengthAdjust="spacingAndGlyphs">4</text>
<line x1="150.6" y1="415.0" x2="150.6" y2="419.6" stroke="#111" stroke-width="1.3"/>
<text x="150.6" y="431.0" font-size="11" font-weight="bold" font-family='"Liberation Serif", serif' text-anchor="middle" textLength="6.05" lengthAdjust="spacingAndGlyphs">5</text>
<line x1="171.9" y1="415.0" x2="171.9" y2="419.6" stroke="#111" stroke-width="1.3"/>
<text x="171.9" y="431.0" font-size="11" font-weight="bold" font-family='"Liberation Serif", serif' text-anchor="middle" textLength="6.05" lengthAdjust="spacingAndGlyphs">6</text>
<line x1="231.5" y1="283.8" x2="231.5" y2="414.4" stroke="#111" stroke-width="1.5"/>
<line x1="227.7" y1="284.4" x2="231.5" y2="284.4" stroke="#111" stroke-width="1.3"/>
<text x="223.2" y="286.5" font-size="11" font-weight="bold" font-family='"Liberation Serif", serif' text-anchor="end" textLength="6.05" lengthAdjust="spacingAndGlyphs">0</text>
<line x1="227.7" y1="305.2" x2="231.5" y2="305.2" stroke="#111" stroke-width="1.3"/>
<text x="224.9" y="308.8" font-size="11" font-weight="bold" font-family='"Liberation Serif", serif' text-anchor="end" textLength="12.10" lengthAdjust="spacingAndGlyphs">20</text>
<line x1="227.7" y1="328.1" x2="231.5" y2="328.1" stroke="#111" stroke-width="1.3"/>
<text x="224.9" y="331.7" font-size="11" font-weight="bold" font-family='"Liberation Serif", serif' text-anchor="end" textLength="12.10" lengthAdjust="spacingAndGlyphs">40</text>
<line x1="227.7" y1="351.0" x2="231.5" y2="351.0" stroke="#111" stroke-width="1.3"/>
<text x="224.9" y="354.6" font-size="11" font-weight="bold" font-family='"Liberation Serif", serif' text-anchor="end" textLength="12.10" lengthAdjust="spacingAndGlyphs">60</text>
<line x1="227.7" y1="373.3" x2="231.5" y2="373.3" stroke="#111" stroke-width="1.3"/>
<text x="224.9" y="376.9" font-size="11" font-weight="bold" font-family='"Liberation Serif", serif' text-anchor="end" textLength="12.10" lengthAdjust="spacingAndGlyphs">80</text>
<line x1="227.7" y1="396.3" x2="231.5" y2="396.3" stroke="#111" stroke-width="1.3"/>
<text x="223.5" y="399.9" font-size="11" font-weight="bold" font-family='"Liberation Serif", serif' text-anchor="end" textLength="18.15" lengthAdjust="spacingAndGlyphs">100</text>
<line x1="227.7" y1="413.8" x2="231.5" y2="413.8" stroke="#111" stroke-width="1.3"/>
<line x1="231.7" y1="415.5" x2="370.8" y2="415.5" stroke="#111" stroke-width="1.5"/>
<line x1="232.3" y1="415.5" x2="232.3" y2="420.1" stroke="#111" stroke-width="1.3"/>
<text x="232.3" y="431.0" font-size="11" font-weight="bold" font-family='"Liberation Serif", serif' text-anchor="middle" textLength="6.05" lengthAdjust="spacingAndGlyphs">0</text>
<line x1="263.6" y1="415.5" x2="263.6" y2="420.1" stroke="#111" stroke-width="1.3"/>
<text x="263.6" y="431.0" font-size="11" font-weight="bold" font-family='"Liberation Serif", serif' text-anchor="middle" textLength="6.05" lengthAdjust="spacingAndGlyphs">1</text>
<line x1="294.9" y1="415.5" x2="294.9" y2="420.1" stroke="#111" stroke-width="1.3"/>
<text x="294.9" y="431.0" font-size="11" font-weight="bold" font-family='"Liberation Serif", serif' text-anchor="middle" textLength="6.05" lengthAdjust="spacingAndGlyphs">2</text>
<line x1="326.2" y1="415.5" x2="326.2" y2="420.1" stroke="#111" stroke-width="1.3"/>
<text x="326.2" y="431.0" font-size="11" font-weight="bold" font-family='"Liberation Serif", serif' text-anchor="middle" textLength="6.05" lengthAdjust="spacingAndGlyphs">3</text>
<line x1="357.5" y1="415.5" x2="357.5" y2="420.1" stroke="#111" stroke-width="1.3"/>
<text x="357.5" y="431.0" font-size="11" font-weight="bold" font-family='"Liberation Serif", serif' text-anchor="middle" textLength="6.05" lengthAdjust="spacingAndGlyphs">4</text>
<text x="0" y="0" font-size="11" font-weight="bold" font-family='"Liberation Serif", serif' text-anchor="middle" transform="translate(6.0,341.0) rotate(-90)" dominant-baseline="central">(%)</text>
<text x="51.3" y="258.5" font-size="12" font-weight="bold" font-family='"Liberation Serif", serif' text-anchor="start" textLength="118" lengthAdjust="spacing">0.020 U/ml α-thrombin</text>
<text x="243.7" y="258.5" font-size="12" font-weight="bold" font-family='"Liberation Serif", serif' text-anchor="start" textLength="104.6" lengthAdjust="spacing">0.1 U/ml α-thrombin</text>
<text x="177.7" y="468.8" font-size="11" font-weight="bold" font-family='"Liberation Serif", serif' text-anchor="start" >Time&#160;&#160;(min)</text>
<path d="M44.50,284.60 L54.50,284.60" fill="none" stroke="#111" stroke-width="1.6" stroke-linejoin="round"/>
<line x1="53.0" y1="272.5" x2="53.0" y2="284.8" stroke="#111" stroke-width="1.1"/>
<line x1="56.4" y1="270.5" x2="56.4" y2="284.8" stroke="#666" stroke-width="1.0"/>
<path d="M54.00,285.00 L54.05,285.35 L54.12,285.83 L54.25,286.54 L54.50,287.60 L54.62,288.05 L54.76,288.54 L54.93,289.07 L55.10,289.64 L55.29,290.25 L55.49,290.88 L55.69,291.54 L55.89,292.23 L56.08,292.93 L56.27,293.64 L56.44,294.37 L56.60,295.10 L56.70,295.62 L56.80,296.15 L56.90,296.69 L56.99,297.23 L57.09,297.79 L57.17,298.35 L57.26,298.92 L57.35,299.51 L57.43,300.10 L57.51,300.70 L57.59,301.31 L57.68,301.93 L57.76,302.56 L57.84,303.20 L57.93,303.86 L58.01,304.52 L58.10,305.20 L58.17,305.76 L58.24,306.33 L58.31,306.92 L58.39,307.52 L58.46,308.13 L58.53,308.75 L58.60,309.38 L58.67,310.02 L58.74,310.66 L58.81,311.30 L58.89,311.95 L58.96,312.60 L59.03,313.25 L59.10,313.90 L59.17,314.54 L59.24,315.19 L59.31,315.82 L59.39,316.45 L59.46,317.08 L59.53,317.69 L59.60,318.30 L59.67,318.93 L59.75,319.55 L59.82,320.17 L59.89,320.78 L59.96,321.40 L60.03,322.00 L60.11,322.61 L60.18,323.21 L60.25,323.81 L60.32,324.41 L60.39,325.01 L60.46,325.61 L60.54,326.20 L60.61,326.80 L60.69,327.40 L60.77,328.00 L60.85,328.59 L60.93,329.19 L61.01,329.80 L61.10,330.40 L61.19,331.01 L61.28,331.63 L61.37,332.26 L61.46,332.90 L61.55,333.54 L61.65,334.19 L61.74,334.84 L61.84,335.48 L61.94,336.13 L62.04,336.77 L62.14,337.40 L62.24,338.03 L62.34,338.64 L62.45,339.24 L62.55,339.83 L62.66,340.41 L62.77,340.96 L62.88,341.50 L62.99,342.01 L63.10,342.50 L63.30,343.28 L63.52,344.04 L63.75,344.77 L63.99,345.47 L64.23,346.13 L64.47,346.76 L64.71,347.34 L64.93,347.87 L65.14,348.36 L65.32,348.80 L65.48,349.18 L65.60,349.50" fill="none" stroke="#333" stroke-width="1.3" stroke-linejoin="round" stroke-dasharray="3,1.6"/>
<path d="M65.60,350.37 L65.67,350.24 L65.75,349.59 L65.85,352.02 L65.95,353.00 L66.07,348.96 L66.19,351.71 L66.32,351.25 L66.47,353.80 L66.62,353.92 L66.78,353.90 L66.94,357.05 L67.12,353.88 L67.30,356.01 L67.43,353.18 L67.56,355.45 L67.68,357.26 L67.81,357.24 L67.93,361.50 L68.06,354.40 L68.20,356.82 L68.33,357.57 L68.48,357.26 L68.64,357.55 L68.80,356.73 L68.98,359.25 L69.17,359.44 L69.38,360.13 L69.61,362.16 L69.85,366.12 L70.11,365.19 L70.40,363.11 L70.61,363.25 L70.84,359.28 L71.07,366.10 L71.32,366.41 L71.58,364.70 L71.84,365.56 L72.12,364.27 L72.40,363.03 L72.69,366.77 L72.99,365.36 L73.29,367.52 L73.60,366.62 L73.91,368.28 L74.22,369.45 L74.54,370.41 L74.86,366.43 L75.18,367.78 L75.50,366.77 L75.82,369.75 L76.14,368.61 L76.46,370.33 L76.77,370.68 L77.09,372.04 L77.40,371.82 L77.70,369.26 L78.00,372.56 L78.37,374.33 L78.74,373.71 L79.10,376.53 L79.47,370.96 L79.85,374.17 L80.22,374.41 L80.59,372.73 L80.96,372.79 L81.33,375.48 L81.71,375.59 L82.08,378.19 L82.45,380.32 L82.83,376.16 L83.20,374.30 L83.57,373.92 L83.95,374.18 L84.32,375.89 L84.69,378.93 L85.06,378.19 L85.43,377.49 L85.80,379.30 L86.21,377.99 L86.61,378.83 L87.02,379.90 L87.43,378.44 L87.83,382.20 L88.24,375.99 L88.64,377.81 L89.05,378.97 L89.45,382.81 L89.86,379.95 L90.26,378.75 L90.67,379.91 L91.07,381.95 L91.48,382.69 L91.88,380.71 L92.29,379.33 L92.69,382.74 L93.09,382.39 L93.50,380.39 L93.95,379.57 L94.41,382.21 L94.86,380.81 L95.31,383.59 L95.77,381.68 L96.22,384.28 L96.68,381.38 L97.13,378.34 L97.58,381.46 L98.04,382.90 L98.49,386.39 L98.94,380.85 L99.40,382.39 L99.85,382.90 L100.30,379.58 L100.75,383.29 L101.20,382.09 L101.65,382.42 L102.10,383.12 L102.55,389.17 L102.99,380.75 L103.44,383.99 L103.89,380.75 L104.33,381.87 L104.78,382.51 L105.22,380.30 L105.67,384.45 L106.11,381.63 L106.56,384.87 L107.01,385.27 L107.45,383.38 L107.90,382.87 L108.35,386.44 L108.80,384.14 L109.25,385.91 L109.69,385.13 L110.14,384.79 L110.58,384.66 L111.02,384.93 L111.46,383.81 L111.90,383.22 L112.35,387.08 L112.79,381.35 L113.24,386.01 L113.69,382.43 L114.14,385.76 L114.60,384.05 L115.07,384.77 L115.54,385.89 L116.02,384.64 L116.50,383.95 L116.91,385.54 L117.31,386.32 L117.71,384.22 L118.10,384.19 L118.49,385.62 L118.88,385.84 L119.27,383.40 L119.66,385.86 L120.06,388.95 L120.47,386.61 L120.89,383.35 L121.31,385.08 L121.76,385.66 L122.21,386.63 L122.69,385.21 L123.18,387.82 L123.70,386.70 L124.24,385.73 L124.81,390.03 L125.40,389.26 L125.76,387.94 L126.14,385.49 L126.52,387.30 L126.91,387.44 L127.32,387.34 L127.73,386.48 L128.15,387.65 L128.58,388.49 L129.01,389.64 L129.45,385.73 L129.90,384.68 L130.36,387.97 L130.81,389.34 L131.28,384.75 L131.75,388.53 L132.22,387.58 L132.69,391.61 L133.17,387.30 L133.65,386.68 L134.13,387.64 L134.62,386.96 L135.10,386.66 L135.59,387.89 L136.07,389.99 L136.56,387.96 L137.04,390.98 L137.52,390.45 L138.00,388.38 L138.48,387.92 L138.95,386.72 L139.42,390.54 L139.88,385.90 L140.34,387.89 L140.80,386.75 L141.25,389.15 L141.71,389.01 L142.18,387.14 L142.64,384.65 L143.11,388.26 L143.58,387.84 L144.05,389.50 L144.52,389.58 L145.00,388.68 L145.47,390.94 L145.95,389.23 L146.42,390.01 L146.90,389.11 L147.38,389.76 L147.85,390.17 L148.32,388.86 L148.79,388.72 L149.26,389.46 L149.73,390.34 L150.19,387.99 L150.65,390.41 L151.11,388.47 L151.57,389.69 L152.01,386.73 L152.46,386.19 L152.90,388.73 L153.33,387.09 L153.76,390.41 L154.19,389.37 L154.60,388.08 L155.01,387.83 L155.42,389.86 L155.81,389.28 L156.20,388.33 L156.76,388.58 L157.30,389.09 L157.83,387.72 L158.35,388.17 L158.85,390.20 L159.34,389.57 L159.83,387.76 L160.30,389.78 L160.76,390.16 L161.22,386.24 L161.67,388.29 L162.11,386.10 L162.55,388.33 L162.98,385.38 L163.42,386.13 L163.85,386.79 L164.28,391.22 L164.71,387.08 L165.14,391.24 L165.57,386.31 L166.01,389.75 L166.45,390.36 L166.90,387.73 L167.38,389.03 L167.87,388.37 L168.38,389.38 L168.90,388.27 L169.42,388.64 L169.95,387.59 L170.48,388.21 L171.01,389.76 L171.54,389.08 L172.06,386.57 L172.57,392.43 L173.07,386.43 L173.56,389.80 L174.03,387.73 L174.48,387.81 L174.91,389.21 L175.32,390.19 L175.70,387.61 L176.05,391.12 L176.37,390.39 L176.65,389.79 L176.90,389.90" fill="none" stroke="#111" stroke-width="1.8" stroke-linejoin="round"/>
<path d="M57.80,285.30 L58.03,285.61 L58.34,285.99 L58.70,286.45 L59.11,286.96 L59.54,287.52 L59.97,288.12 L60.39,288.74 L60.77,289.37 L61.10,290.00 L61.33,290.52 L61.54,291.07 L61.74,291.64 L61.92,292.22 L62.10,292.82 L62.26,293.43 L62.43,294.05 L62.59,294.68 L62.75,295.31 L62.92,295.96 L63.10,296.60 L63.25,297.15 L63.40,297.70 L63.55,298.26 L63.70,298.82 L63.85,299.39 L63.99,299.96 L64.14,300.54 L64.29,301.13 L64.45,301.73 L64.60,302.33 L64.76,302.94 L64.93,303.57 L65.10,304.20 L65.25,304.77 L65.40,305.35 L65.56,305.96 L65.72,306.58 L65.87,307.20 L66.04,307.84 L66.20,308.48 L66.36,309.11 L66.53,309.74 L66.70,310.36 L66.88,310.97 L67.05,311.56 L67.23,312.13 L67.41,312.68 L67.60,313.20 L67.86,313.88 L68.12,314.53 L68.39,315.16 L68.67,315.76 L68.95,316.34 L69.23,316.90 L69.52,317.43 L69.81,317.94 L70.10,318.42 L70.40,318.87 L70.70,319.30 L71.17,319.93 L71.66,320.51 L72.15,321.04 L72.64,321.49 L73.15,321.86 L73.67,322.13 L74.20,322.30 L74.74,322.33 L75.30,322.21 L75.87,322.00 L76.45,321.71 L77.04,321.40 L77.62,321.08 L78.20,320.80 L78.78,320.53 L79.37,320.24 L79.96,319.94 L80.54,319.63 L81.13,319.33 L81.72,319.05 L82.30,318.80 L82.80,318.60 L83.21,318.45 L83.59,318.33 L84.02,318.20 L84.56,318.03 L85.30,317.81 L86.30,317.50 L86.70,317.37 L87.12,317.24 L87.55,317.10 L88.02,316.96 L88.50,316.80 L89.00,316.64 L89.51,316.48 L90.05,316.31 L90.61,316.13 L91.18,315.95 L91.77,315.76 L92.38,315.57 L93.00,315.38 L93.64,315.18 L94.29,314.98 L94.96,314.77 L95.64,314.56 L96.34,314.35 L97.05,314.13 L97.77,313.92 L98.50,313.70 L98.99,313.55 L99.49,313.40 L100.01,313.25 L100.53,313.10 L101.07,312.94 L101.62,312.78 L102.17,312.61 L102.73,312.44 L103.31,312.27 L103.88,312.10 L104.47,311.93 L105.06,311.76 L105.66,311.58 L106.26,311.41 L106.87,311.23 L107.48,311.05 L108.10,310.87 L108.71,310.69 L109.33,310.51 L109.95,310.34 L110.57,310.16 L111.20,309.98 L111.82,309.81 L112.44,309.63 L113.06,309.46 L113.67,309.29 L114.29,309.12 L114.90,308.95 L115.51,308.78 L116.11,308.62 L116.71,308.46 L117.30,308.30 L117.89,308.14 L118.47,307.99 L119.06,307.83 L119.64,307.68 L120.22,307.53 L120.80,307.37 L121.38,307.22 L121.96,307.07 L122.53,306.92 L123.11,306.77 L123.69,306.62 L124.27,306.47 L124.84,306.32 L125.42,306.17 L126.00,306.03 L126.58,305.88 L127.16,305.74 L127.75,305.59 L128.33,305.45 L128.92,305.31 L129.51,305.17 L130.10,305.03 L130.69,304.89 L131.29,304.75 L131.89,304.62 L132.49,304.48 L133.10,304.35 L133.71,304.22 L134.33,304.09 L134.95,303.96 L135.57,303.83 L136.20,303.70 L136.77,303.59 L137.34,303.47 L137.92,303.36 L138.50,303.25 L139.10,303.13 L139.69,303.02 L140.30,302.91 L140.90,302.80 L141.52,302.68 L142.13,302.57 L142.75,302.46 L143.37,302.35 L143.99,302.24 L144.62,302.13 L145.24,302.03 L145.87,301.92 L146.49,301.82 L147.12,301.71 L147.74,301.61 L148.37,301.51 L148.99,301.41 L149.60,301.31 L150.22,301.22 L150.83,301.13 L151.44,301.03 L152.04,300.95 L152.64,300.86 L153.23,300.78 L153.81,300.69 L154.39,300.61 L154.97,300.54 L155.53,300.46 L156.09,300.39 L156.63,300.33 L157.17,300.26 L157.70,300.20 L158.40,300.12 L159.11,300.05 L159.82,299.99 L160.54,299.93 L161.25,299.87 L161.97,299.83 L162.68,299.78 L163.39,299.74 L164.09,299.70 L164.79,299.67 L165.48,299.64 L166.15,299.62 L166.82,299.59 L167.47,299.57 L168.10,299.55 L168.72,299.54 L169.32,299.52 L169.90,299.51 L170.45,299.49 L170.98,299.48 L171.49,299.47 L171.97,299.46 L172.42,299.45 L172.84,299.44 L173.23,299.43 L173.58,299.41 L173.90,299.40" fill="none" stroke="#6a6a6a" stroke-width="1.1" stroke-linejoin="round" stroke-dasharray="5,1.5,1.2,1.5"/>
<text x="90.4" y="301.5" font-size="11" font-family='"Liberation Serif", serif' ><tspan font-weight="bold">Lyn</tspan> -/-</text>
<text x="130.8" y="378.5" font-size="11" font-weight="bold" font-family='"Liberation Serif", serif' text-anchor="start" >WT</text>
<path d="M234.10,284.00 L248.70,284.00" fill="none" stroke="#111" stroke-width="1.4" stroke-linejoin="round"/>
<line x1="245.3" y1="280.9" x2="245.3" y2="284.0" stroke="#111" stroke-width="1.0"/>
<line x1="250.9" y1="272.9" x2="250.9" y2="284.0" stroke="#111" stroke-width="1.0"/>
<path d="M248.70,284.00 L248.76,284.32 L248.83,284.67 L248.91,285.07 L249.00,285.50 L249.10,285.97 L249.20,286.49 L249.31,287.04 L249.43,287.63 L249.54,288.27 L249.66,288.95 L249.78,289.67 L249.89,290.44 L250.00,291.24 L250.10,292.10 L250.20,293.00 L250.24,293.46 L250.29,293.93 L250.33,294.43 L250.37,294.94 L250.41,295.47 L250.46,296.01 L250.50,296.57 L250.53,297.14 L250.57,297.72 L250.61,298.31 L250.65,298.92 L250.69,299.53 L250.73,300.16 L250.77,300.79 L250.81,301.42 L250.84,302.07 L250.88,302.71 L250.92,303.36 L250.96,304.02 L251.00,304.67 L251.04,305.33 L251.08,305.98 L251.13,306.63 L251.17,307.29 L251.21,307.93 L251.26,308.58 L251.30,309.22 L251.35,309.85 L251.40,310.47 L251.45,311.09 L251.50,311.70 L251.55,312.31 L251.61,312.91 L251.66,313.53 L251.72,314.14 L251.77,314.76 L251.83,315.38 L251.89,316.00 L251.95,316.62 L252.01,317.24 L252.07,317.86 L252.13,318.49 L252.20,319.11 L252.26,319.73 L252.32,320.35 L252.39,320.97 L252.45,321.59 L252.52,322.21 L252.58,322.82 L252.64,323.43 L252.71,324.04 L252.77,324.64 L252.84,325.24 L252.90,325.84 L252.97,326.43 L253.03,327.01 L253.09,327.59 L253.16,328.17 L253.22,328.74 L253.28,329.30 L253.34,329.85 L253.40,330.40 L253.47,331.07 L253.54,331.73 L253.61,332.38 L253.68,333.03 L253.75,333.67 L253.82,334.30 L253.88,334.92 L253.95,335.54 L254.01,336.15 L254.08,336.76 L254.14,337.36 L254.21,337.95 L254.28,338.54 L254.34,339.13 L254.41,339.71 L254.48,340.29 L254.55,340.87 L254.63,341.44 L254.70,342.01 L254.78,342.58 L254.86,343.15 L254.94,343.71 L255.02,344.28 L255.11,344.84 L255.20,345.40 L255.31,346.04 L255.41,346.69 L255.52,347.34 L255.63,347.99 L255.75,348.64 L255.86,349.29 L255.98,349.94 L256.10,350.58 L256.22,351.22 L256.35,351.85 L256.47,352.48 L256.60,353.10 L256.73,353.71 L256.87,354.30 L257.00,354.89 L257.14,355.45 L257.28,356.01 L257.42,356.55 L257.56,357.06 L257.70,357.56 L257.85,358.04 L258.00,358.50 L258.28,359.28 L258.55,360.00 L258.84,360.65 L259.13,361.26 L259.42,361.82 L259.72,362.34 L260.04,362.82 L260.36,363.29 L260.70,363.73 L261.05,364.16 L261.42,364.58 L261.80,365.00 L262.26,365.46 L262.78,365.89 L263.35,366.31 L263.94,366.71 L264.54,367.08 L265.13,367.43 L265.70,367.74 L266.23,368.03 L266.70,368.29 L267.09,368.51 L267.40,368.70" fill="none" stroke="#111" stroke-width="1.2" stroke-linejoin="round"/>
<path d="M261.80,365.92 L262.01,364.97 L262.26,366.09 L262.53,364.86 L262.83,365.96 L263.16,366.52 L263.51,365.57 L263.90,367.38 L264.31,367.00 L264.76,367.36 L265.23,368.40 L265.73,368.51 L266.26,367.45 L266.81,366.63 L267.40,369.45 L267.73,368.08 L268.07,371.51 L268.43,368.90 L268.80,367.92 L269.17,369.42 L269.56,369.98 L269.96,369.98 L270.37,368.52 L270.79,370.46 L271.21,369.31 L271.65,370.93 L272.09,369.58 L272.53,369.48 L272.98,370.83 L273.44,371.65 L273.90,371.73 L274.36,372.11 L274.83,373.55 L275.30,372.37 L275.77,373.29 L276.24,373.71 L276.72,372.43 L277.19,375.49 L277.66,372.47 L278.13,373.77 L278.60,374.06 L279.02,371.79 L279.44,374.94 L279.86,372.99 L280.28,374.92 L280.70,374.55 L281.12,374.49 L281.55,372.15 L281.97,374.66 L282.40,374.48 L282.83,374.58 L283.26,375.06 L283.70,374.69 L284.14,374.31 L284.58,374.49 L285.02,375.20 L285.47,376.19 L285.92,375.37 L286.38,375.26 L286.83,375.78 L287.30,376.04 L287.77,376.37 L288.24,376.59 L288.72,373.15 L289.20,375.20 L289.69,376.15 L290.18,375.29 L290.68,376.59 L291.19,376.58 L291.70,376.14 L292.11,375.26 L292.52,376.27 L292.94,377.03 L293.36,377.54 L293.79,376.09 L294.22,376.36 L294.66,374.49 L295.10,376.13 L295.54,376.76 L295.99,376.25 L296.44,376.44 L296.90,378.42 L297.36,377.80 L297.82,376.46 L298.28,377.73 L298.74,375.51 L299.21,377.57 L299.68,376.69 L300.15,376.87 L300.62,377.63 L301.09,378.32 L301.56,377.38 L302.03,378.36 L302.50,378.36 L302.97,376.92 L303.44,378.74 L303.91,379.17 L304.38,378.28 L304.85,376.66 L305.31,376.31 L305.77,377.95 L306.24,378.19 L306.69,378.26 L307.15,378.01 L307.60,379.12 L308.05,378.17 L308.50,377.99 L308.96,377.78 L309.41,378.63 L309.86,378.39 L310.31,378.25 L310.76,378.82 L311.21,377.06 L311.66,377.61 L312.10,378.57 L312.55,378.14 L312.99,378.03 L313.43,379.33 L313.87,377.24 L314.32,380.11 L314.76,379.00 L315.20,379.78 L315.64,379.71 L316.08,377.40 L316.52,380.17 L316.96,379.61 L317.40,379.34 L317.84,380.28 L318.28,379.15 L318.73,379.47 L319.17,380.05 L319.61,379.71 L320.06,380.81 L320.51,379.32 L320.96,380.01 L321.40,379.75 L321.86,379.67 L322.31,379.41 L322.76,379.61 L323.22,379.69 L323.68,380.85 L324.14,380.04 L324.60,381.12 L325.04,381.13 L325.49,380.29 L325.94,381.39 L326.40,380.82 L326.86,380.87 L327.32,382.40 L327.79,381.27 L328.25,379.61 L328.73,380.24 L329.20,379.79 L329.68,381.12 L330.15,380.68 L330.63,381.55 L331.11,381.47 L331.59,381.81 L332.07,380.78 L332.55,381.83 L333.02,379.56 L333.50,381.54 L333.98,380.75 L334.45,380.50 L334.92,381.48 L335.39,380.42 L335.86,382.28 L336.32,381.17 L336.78,381.91 L337.24,382.71 L337.69,383.02 L338.14,382.62 L338.58,381.59 L339.02,382.94 L339.45,381.47 L339.87,382.04 L340.29,382.50 L340.70,382.48 L341.11,382.34 L341.51,383.22 L341.90,381.81 L342.46,382.80 L343.00,382.56 L343.53,381.42 L344.05,380.65 L344.55,381.80 L345.05,382.34 L345.53,383.73 L346.00,381.70 L346.47,381.81 L346.93,385.51 L347.38,380.89 L347.83,383.49 L348.27,381.53 L348.71,381.22 L349.14,382.13 L349.58,381.54 L350.01,383.14 L350.44,383.42 L350.87,381.36 L351.31,382.74 L351.74,382.11 L352.19,381.18 L352.63,383.21 L353.08,383.34 L353.54,381.15 L354.00,384.76 L354.46,381.66 L354.93,384.36 L355.42,382.57 L355.92,382.50 L356.42,383.79 L356.94,383.39 L357.46,384.06 L357.98,385.39 L358.51,381.09 L359.04,381.63 L359.56,383.57 L360.08,382.81 L360.60,383.32 L361.11,384.73 L361.61,383.70 L362.10,383.41 L362.57,385.09 L363.03,383.05 L363.48,384.14 L363.90,383.42 L364.31,383.21 L364.69,382.41 L365.05,385.06 L365.38,384.96 L365.68,382.73 L365.96,382.71 L366.20,383.54" fill="none" stroke="#111" stroke-width="1.7" stroke-linejoin="round"/>
<path d="M253.40,284.00 L253.45,284.33 L253.52,284.69 L253.59,285.10 L253.67,285.54 L253.75,286.02 L253.84,286.53 L253.94,287.07 L254.04,287.63 L254.15,288.23 L254.26,288.84 L254.37,289.48 L254.48,290.13 L254.60,290.80 L254.71,291.49 L254.83,292.18 L254.95,292.89 L255.06,293.60 L255.18,294.32 L255.29,295.04 L255.40,295.76 L255.51,296.48 L255.61,297.19 L255.71,297.90 L255.80,298.60 L255.87,299.14 L255.94,299.69 L256.00,300.25 L256.07,300.81 L256.13,301.38 L256.19,301.96 L256.26,302.55 L256.32,303.13 L256.38,303.73 L256.44,304.33 L256.50,304.93 L256.56,305.54 L256.62,306.15 L256.68,306.77 L256.73,307.38 L256.79,308.00 L256.85,308.63 L256.91,309.25 L256.97,309.87 L257.02,310.50 L257.08,311.12 L257.14,311.75 L257.20,312.37 L257.26,313.00 L257.32,313.62 L257.38,314.24 L257.44,314.86 L257.51,315.47 L257.57,316.09 L257.63,316.69 L257.70,317.30 L257.77,317.91 L257.83,318.51 L257.90,319.13 L257.96,319.74 L258.03,320.36 L258.10,320.98 L258.16,321.60 L258.23,322.22 L258.30,322.84 L258.37,323.46 L258.43,324.09 L258.50,324.71 L258.57,325.33 L258.64,325.95 L258.71,326.57 L258.78,327.19 L258.85,327.81 L258.92,328.42 L258.99,329.03 L259.06,329.64 L259.14,330.24 L259.21,330.84 L259.28,331.44 L259.36,332.03 L259.43,332.61 L259.51,333.19 L259.58,333.77 L259.66,334.34 L259.74,334.90 L259.82,335.45 L259.90,336.00 L260.00,336.67 L260.10,337.34 L260.20,338.00 L260.30,338.65 L260.41,339.30 L260.51,339.94 L260.62,340.58 L260.72,341.21 L260.83,341.83 L260.93,342.45 L261.04,343.06 L261.15,343.67 L261.26,344.27 L261.37,344.86 L261.49,345.45 L261.60,346.03 L261.72,346.61 L261.83,347.18 L261.95,347.74 L262.07,348.30 L262.19,348.85 L262.32,349.40 L262.44,349.94 L262.57,350.47 L262.70,351.00 L262.87,351.69 L263.04,352.36 L263.21,353.03 L263.39,353.69 L263.56,354.34 L263.74,354.98 L263.92,355.61 L264.10,356.23 L264.28,356.83 L264.47,357.43 L264.66,358.01 L264.86,358.58 L265.06,359.14 L265.27,359.69 L265.48,360.22 L265.70,360.73 L265.93,361.24 L266.16,361.73 L266.40,362.20 L266.74,362.82 L267.09,363.40 L267.46,363.95 L267.83,364.48 L268.22,364.98 L268.61,365.46 L269.02,365.91 L269.43,366.35 L269.85,366.77 L270.27,367.18 L270.70,367.57 L271.13,367.95 L271.56,368.33 L272.00,368.70 L272.49,369.11 L272.97,369.50 L273.43,369.86 L273.89,370.20 L274.35,370.52 L274.83,370.82 L275.34,371.11 L275.88,371.39 L276.47,371.67 L277.11,371.94 L277.82,372.22 L278.60,372.50 L279.06,372.65 L279.53,372.80 L280.03,372.95 L280.54,373.10 L281.06,373.25 L281.60,373.39 L282.16,373.53 L282.73,373.67 L283.31,373.81 L283.91,373.95 L284.51,374.08 L285.13,374.22 L285.76,374.35 L286.39,374.48 L287.03,374.61 L287.68,374.74 L288.34,374.87 L289.01,375.00 L289.67,375.12 L290.35,375.25 L291.02,375.37 L291.70,375.50 L292.25,375.60 L292.83,375.70 L293.43,375.80 L294.05,375.91 L294.70,376.01 L295.36,376.11 L296.03,376.22 L296.72,376.32 L297.42,376.43 L298.12,376.53 L298.82,376.64 L299.52,376.74 L300.22,376.84 L300.92,376.94 L301.61,377.03 L302.28,377.13 L302.94,377.22 L303.59,377.31 L304.21,377.40 L304.82,377.48 L305.39,377.56 L305.94,377.64 L306.46,377.71 L306.95,377.78 L307.40,377.84 L307.81,377.90 L308.18,377.95 L308.50,378.00" fill="none" stroke="#111" stroke-width="1.1" stroke-linejoin="round" stroke-dasharray="4,1.5"/>
<text x="269.3" y="349.1" font-size="11" font-family='"Liberation Serif", serif' ><tspan font-weight="bold">Lyn</tspan> -/-</text>
<text x="244.6" y="379.4" font-size="11" font-weight="bold" font-family='"Liberation Serif", serif' text-anchor="start" >WT</text>
<line x1="51.7" y1="537.2" x2="51.7" y2="674.2" stroke="#111" stroke-width="1.5"/>
<line x1="47.2" y1="537.8" x2="51.7" y2="537.8" stroke="#111" stroke-width="1.3"/>
<text x="42.5" y="540.3" font-size="11.5" font-weight="bold" font-family='"Liberation Serif", serif' text-anchor="end" textLength="6.33" lengthAdjust="spacingAndGlyphs">0</text>
<line x1="47.2" y1="559.7" x2="51.7" y2="559.7" stroke="#111" stroke-width="1.3"/>
<text x="44.2" y="565.0" font-size="11.5" font-weight="bold" font-family='"Liberation Serif", serif' text-anchor="end" textLength="12.65" lengthAdjust="spacingAndGlyphs">20</text>
<line x1="47.2" y1="584.2" x2="51.7" y2="584.2" stroke="#111" stroke-width="1.3"/>
<text x="44.2" y="589.5" font-size="11.5" font-weight="bold" font-family='"Liberation Serif", serif' text-anchor="end" textLength="12.65" lengthAdjust="spacingAndGlyphs">40</text>
<line x1="47.2" y1="608.4" x2="51.7" y2="608.4" stroke="#111" stroke-width="1.3"/>
<text x="44.2" y="613.7" font-size="11.5" font-weight="bold" font-family='"Liberation Serif", serif' text-anchor="end" textLength="12.65" lengthAdjust="spacingAndGlyphs">60</text>
<line x1="47.2" y1="632.5" x2="51.7" y2="632.5" stroke="#111" stroke-width="1.3"/>
<text x="44.2" y="637.8" font-size="11.5" font-weight="bold" font-family='"Liberation Serif", serif' text-anchor="end" textLength="12.65" lengthAdjust="spacingAndGlyphs">80</text>
<line x1="47.2" y1="656.2" x2="51.7" y2="656.2" stroke="#111" stroke-width="1.3"/>
<text x="42.8" y="661.5" font-size="11.5" font-weight="bold" font-family='"Liberation Serif", serif' text-anchor="end" textLength="18.98" lengthAdjust="spacingAndGlyphs">100</text>
<line x1="47.2" y1="673.6" x2="51.7" y2="673.6" stroke="#111" stroke-width="1.3"/>
<line x1="53.1" y1="674.7" x2="202.5" y2="674.7" stroke="#111" stroke-width="1.5"/>
<line x1="53.7" y1="674.7" x2="53.7" y2="681.7" stroke="#111" stroke-width="1.3"/>
<text x="53.7" y="692.3" font-size="11.5" font-weight="bold" font-family='"Liberation Serif", serif' text-anchor="middle" textLength="6.33" lengthAdjust="spacingAndGlyphs">0</text>
<line x1="73.6" y1="674.7" x2="73.6" y2="681.7" stroke="#111" stroke-width="1.3"/>
<text x="73.6" y="692.3" font-size="11.5" font-weight="bold" font-family='"Liberation Serif", serif' text-anchor="middle" textLength="6.33" lengthAdjust="spacingAndGlyphs">1</text>
<line x1="93.4" y1="674.7" x2="93.4" y2="681.7" stroke="#111" stroke-width="1.3"/>
<text x="93.4" y="692.3" font-size="11.5" font-weight="bold" font-family='"Liberation Serif", serif' text-anchor="middle" textLength="6.33" lengthAdjust="spacingAndGlyphs">2</text>
<line x1="113.2" y1="674.7" x2="113.2" y2="681.7" stroke="#111" stroke-width="1.3"/>
<text x="113.2" y="692.3" font-size="11.5" font-weight="bold" font-family='"Liberation Serif", serif' text-anchor="middle" textLength="6.33" lengthAdjust="spacingAndGlyphs">3</text>
<line x1="133.1" y1="674.7" x2="133.1" y2="681.7" stroke="#111" stroke-width="1.3"/>
<text x="133.1" y="692.3" font-size="11.5" font-weight="bold" font-family='"Liberation Serif", serif' text-anchor="middle" textLength="6.33" lengthAdjust="spacingAndGlyphs">4</text>
<line x1="152.9" y1="674.7" x2="152.9" y2="681.7" stroke="#111" stroke-width="1.3"/>
<text x="152.9" y="692.3" font-size="11.5" font-weight="bold" font-family='"Liberation Serif", serif' text-anchor="middle" textLength="6.33" lengthAdjust="spacingAndGlyphs">5</text>
<line x1="172.8" y1="674.7" x2="172.8" y2="681.7" stroke="#111" stroke-width="1.3"/>
<text x="172.8" y="692.3" font-size="11.5" font-weight="bold" font-family='"Liberation Serif", serif' text-anchor="middle" textLength="6.33" lengthAdjust="spacingAndGlyphs">6</text>
<line x1="192.7" y1="674.7" x2="192.7" y2="681.7" stroke="#111" stroke-width="1.3"/>
<text x="192.7" y="692.3" font-size="11.5" font-weight="bold" font-family='"Liberation Serif", serif' text-anchor="middle" textLength="6.33" lengthAdjust="spacingAndGlyphs">7</text>
<line x1="245.0" y1="536.2" x2="245.0" y2="674.1" stroke="#111" stroke-width="1.5"/>
<line x1="240.5" y1="536.8" x2="245.0" y2="536.8" stroke="#111" stroke-width="1.3"/>
<text x="236.3" y="539.6" font-size="11.5" font-weight="bold" font-family='"Liberation Serif", serif' text-anchor="end" textLength="6.33" lengthAdjust="spacingAndGlyphs">0</text>
<line x1="240.5" y1="558.9" x2="245.0" y2="558.9" stroke="#111" stroke-width="1.3"/>
<text x="238.0" y="563.7" font-size="11.5" font-weight="bold" font-family='"Liberation Serif", serif' text-anchor="end" textLength="12.65" lengthAdjust="spacingAndGlyphs">20</text>
<line x1="240.5" y1="582.8" x2="245.0" y2="582.8" stroke="#111" stroke-width="1.3"/>
<text x="238.0" y="587.6" font-size="11.5" font-weight="bold" font-family='"Liberation Serif", serif' text-anchor="end" textLength="12.65" lengthAdjust="spacingAndGlyphs">40</text>
<line x1="240.5" y1="606.6" x2="245.0" y2="606.6" stroke="#111" stroke-width="1.3"/>
<text x="238.0" y="611.4" font-size="11.5" font-weight="bold" font-family='"Liberation Serif", serif' text-anchor="end" textLength="12.65" lengthAdjust="spacingAndGlyphs">60</text>
<line x1="240.5" y1="630.6" x2="245.0" y2="630.6" stroke="#111" stroke-width="1.3"/>
<text x="238.0" y="635.4" font-size="11.5" font-weight="bold" font-family='"Liberation Serif", serif' text-anchor="end" textLength="12.65" lengthAdjust="spacingAndGlyphs">80</text>
<line x1="240.5" y1="654.5" x2="245.0" y2="654.5" stroke="#111" stroke-width="1.3"/>
<text x="236.6" y="659.3" font-size="11.5" font-weight="bold" font-family='"Liberation Serif", serif' text-anchor="end" textLength="18.98" lengthAdjust="spacingAndGlyphs">100</text>
<line x1="240.5" y1="673.5" x2="245.0" y2="673.5" stroke="#111" stroke-width="1.3"/>
<line x1="246.7" y1="674.5" x2="396.8" y2="674.5" stroke="#111" stroke-width="1.5"/>
<line x1="247.3" y1="674.5" x2="247.3" y2="681.5" stroke="#111" stroke-width="1.3"/>
<text x="247.3" y="692.0" font-size="11.5" font-weight="bold" font-family='"Liberation Serif", serif' text-anchor="middle" textLength="6.33" lengthAdjust="spacingAndGlyphs">0</text>
<line x1="267.2" y1="674.5" x2="267.2" y2="681.5" stroke="#111" stroke-width="1.3"/>
<text x="267.2" y="692.0" font-size="11.5" font-weight="bold" font-family='"Liberation Serif", serif' text-anchor="middle" textLength="6.33" lengthAdjust="spacingAndGlyphs">1</text>
<line x1="287.1" y1="674.5" x2="287.1" y2="681.5" stroke="#111" stroke-width="1.3"/>
<text x="287.1" y="692.0" font-size="11.5" font-weight="bold" font-family='"Liberation Serif", serif' text-anchor="middle" textLength="6.33" lengthAdjust="spacingAndGlyphs">2</text>
<line x1="307.0" y1="674.5" x2="307.0" y2="681.5" stroke="#111" stroke-width="1.3"/>
<text x="307.0" y="692.0" font-size="11.5" font-weight="bold" font-family='"Liberation Serif", serif' text-anchor="middle" textLength="6.33" lengthAdjust="spacingAndGlyphs">3</text>
<line x1="326.9" y1="674.5" x2="326.9" y2="681.5" stroke="#111" stroke-width="1.3"/>
<text x="326.9" y="692.0" font-size="11.5" font-weight="bold" font-family='"Liberation Serif", serif' text-anchor="middle" textLength="6.33" lengthAdjust="spacingAndGlyphs">4</text>
<line x1="346.8" y1="674.5" x2="346.8" y2="681.5" stroke="#111" stroke-width="1.3"/>
<text x="346.8" y="692.0" font-size="11.5" font-weight="bold" font-family='"Liberation Serif", serif' text-anchor="middle" textLength="6.33" lengthAdjust="spacingAndGlyphs">5</text>
<line x1="366.7" y1="674.5" x2="366.7" y2="681.5" stroke="#111" stroke-width="1.3"/>
<text x="366.7" y="692.0" font-size="11.5" font-weight="bold" font-family='"Liberation Serif", serif' text-anchor="middle" textLength="6.33" lengthAdjust="spacingAndGlyphs">6</text>
<line x1="386.6" y1="674.5" x2="386.6" y2="681.5" stroke="#111" stroke-width="1.3"/>
<text x="386.6" y="692.0" font-size="11.5" font-weight="bold" font-family='"Liberation Serif", serif' text-anchor="middle" textLength="6.33" lengthAdjust="spacingAndGlyphs">7</text>
<text x="0" y="0" font-size="11.8" font-weight="bold" font-family='"Liberation Serif", serif' text-anchor="middle" transform="translate(11.2,598.2) rotate(-90)" dominant-baseline="central">(%)</text>
<text x="64.4" y="509.0" font-size="12" font-weight="bold" font-family='"Liberation Serif", serif' text-anchor="start" textLength="119.3" lengthAdjust="spacing">250μM&#160;&#160;PAR4 peptide</text>
<text x="258.4" y="509.5" font-size="12" font-weight="bold" font-family='"Liberation Serif", serif' text-anchor="start" textLength="122.6" lengthAdjust="spacing">500μM&#160;&#160;PAR4 peptide</text>
<path d="M54.30,537.30 L67.30,538.20" fill="none" stroke="#111" stroke-width="1.3" stroke-linejoin="round"/>
<line x1="61.0" y1="528.7" x2="61.0" y2="537.5" stroke="#111" stroke-width="1.0"/>
<line x1="64.4" y1="528.7" x2="64.4" y2="537.8" stroke="#111" stroke-width="1.0"/>
<path d="M67.30,538.20 L67.61,538.38 L68.00,538.61 L68.47,538.87 L69.00,539.17 L69.59,539.52 L70.22,539.91 L70.89,540.33 L71.60,540.80 L72.02,541.10 L72.46,541.43 L72.92,541.79 L73.40,542.17 L73.90,542.56 L74.40,542.97 L74.92,543.39 L75.46,543.80 L76.00,544.21 L76.55,544.61 L77.11,545.00 L77.67,545.36 L78.23,545.70 L78.80,546.00 L79.34,546.26 L79.88,546.50 L80.44,546.73 L81.01,546.95 L81.59,547.16 L82.17,547.36 L82.76,547.54 L83.35,547.72 L83.95,547.89 L84.54,548.05 L85.14,548.21 L85.74,548.36 L86.33,548.51 L86.92,548.66 L87.50,548.80 L88.12,548.95 L88.74,549.08 L89.37,549.20 L89.99,549.31 L90.61,549.41 L91.23,549.51 L91.86,549.60 L92.48,549.69 L93.10,549.78 L93.72,549.87 L94.34,549.97 L94.96,550.07 L95.58,550.18 L96.20,550.30 L96.80,550.43 L97.36,550.57 L97.89,550.72 L98.41,550.87 L98.92,551.02 L99.44,551.18 L99.96,551.34 L100.51,551.49 L101.09,551.65 L101.71,551.79 L102.38,551.94 L103.12,552.07 L103.92,552.19 L104.80,552.30 L105.27,552.35 L105.74,552.40 L106.22,552.44 L106.71,552.48 L107.21,552.52 L107.72,552.56 L108.24,552.59 L108.77,552.62 L109.31,552.65 L109.86,552.68 L110.42,552.71 L111.00,552.74 L111.58,552.76 L112.18,552.79 L112.79,552.81 L113.42,552.84 L114.06,552.86 L114.71,552.89 L115.38,552.91 L116.06,552.94 L116.76,552.97 L117.47,552.99 L118.20,553.02 L118.94,553.05 L119.71,553.09 L120.49,553.12 L121.28,553.16 L122.10,553.20 L122.58,553.22 L123.07,553.25 L123.57,553.27 L124.07,553.30 L124.57,553.32 L125.08,553.34 L125.60,553.37 L126.12,553.39 L126.65,553.42 L127.18,553.44 L127.71,553.47 L128.25,553.49 L128.80,553.52 L129.35,553.54 L129.91,553.57 L130.47,553.60 L131.04,553.62 L131.61,553.65 L132.19,553.68 L132.77,553.70 L133.35,553.73 L133.95,553.76 L134.54,553.78 L135.14,553.81 L135.75,553.84 L136.36,553.87 L136.98,553.90 L137.60,553.93 L138.22,553.96 L138.85,553.99 L139.49,554.02 L140.13,554.05 L140.77,554.08 L141.42,554.11 L142.08,554.14 L142.74,554.18 L143.40,554.21 L144.07,554.24 L144.74,554.27 L145.42,554.31 L146.10,554.34 L146.79,554.38 L147.48,554.41 L148.17,554.45 L148.87,554.49 L149.58,554.52 L150.29,554.56 L151.00,554.60 L151.53,554.63 L152.07,554.66 L152.62,554.69 L153.19,554.72 L153.77,554.75 L154.36,554.78 L154.96,554.82 L155.57,554.85 L156.19,554.89 L156.82,554.92 L157.46,554.96 L158.11,554.99 L158.77,555.03 L159.43,555.07 L160.10,555.11 L160.78,555.15 L161.46,555.19 L162.14,555.22 L162.84,555.26 L163.53,555.30 L164.23,555.34 L164.93,555.39 L165.64,555.43 L166.34,555.47 L167.05,555.51 L167.76,555.55 L168.47,555.59 L169.18,555.63 L169.89,555.67 L170.60,555.71 L171.30,555.76 L172.01,555.80 L172.71,555.84 L173.40,555.88 L174.10,555.92 L174.79,555.96 L175.47,556.00 L176.15,556.04 L176.82,556.08 L177.49,556.12 L178.15,556.16 L178.80,556.20 L179.44,556.23 L180.08,556.27 L180.70,556.31 L181.32,556.34 L181.93,556.38 L182.52,556.41 L183.11,556.45 L183.68,556.48 L184.24,556.52 L184.78,556.55 L185.32,556.58 L185.84,556.61 L186.34,556.64 L186.83,556.67 L187.31,556.70 L187.77,556.72 L188.21,556.75 L188.64,556.77 L189.04,556.80 L189.43,556.82 L189.80,556.84 L190.16,556.86 L190.49,556.88 L190.80,556.90" fill="none" stroke="#111" stroke-width="1.2" stroke-linejoin="round"/>
<path d="M67.30,538.20 L67.61,538.49 L68.00,538.30 L68.47,539.58 L69.00,538.44 L69.59,538.97 L70.22,539.92 L70.89,540.69 L71.60,540.53 L72.02,541.78 L72.46,541.44 L72.92,542.01 L73.40,542.46 L73.90,543.13 L74.40,542.44 L74.92,542.64 L75.46,543.47 L76.00,544.10 L76.55,543.76 L77.11,545.11 L77.67,545.51 L78.23,546.12 L78.80,545.37 L79.34,546.39 L79.88,546.58 L80.44,547.09 L81.01,546.83 L81.59,547.55 L82.17,546.97 L82.76,546.78 L83.35,546.70 L83.95,548.29 L84.54,547.87 L85.14,548.20 L85.74,548.95 L86.33,548.89 L86.92,549.22 L87.50,548.13 L88.12,548.99 L88.74,548.82 L89.37,549.92 L89.99,549.64 L90.61,550.15 L91.23,550.04 L91.86,549.53 L92.48,550.05 L93.10,550.31 L93.72,549.39 L94.34,550.50 L94.96,550.17 L95.58,549.73 L96.20,550.58 L96.83,550.62 L97.48,550.27 L98.14,551.26 L98.81,551.32 L99.49,551.02 L100.16,551.07 L100.83,551.80 L101.48,551.64 L102.11,551.22 L102.72,551.50 L103.30,552.24 L103.84,551.69 L104.34,552.58 L104.80,552.70 L105.47,552.97 L106.00,552.63 L106.42,553.27 L106.77,553.60 L107.10,553.66 L107.44,555.24 L107.83,555.64 L108.30,555.79 L108.59,555.68 L108.90,557.31 L109.21,556.48 L109.54,557.47 L109.87,557.42 L110.22,558.42 L110.56,559.31 L110.91,558.97 L111.26,560.67 L111.61,560.39 L111.96,561.49 L112.31,562.29 L112.65,562.57 L112.98,563.46 L113.30,563.44 L113.54,563.69 L113.77,565.11 L114.00,565.06 L114.24,565.46 L114.46,565.84 L114.69,567.35 L114.92,567.53 L115.15,567.30 L115.37,567.65 L115.59,568.69 L115.82,569.00 L116.04,569.75 L116.26,570.42 L116.48,571.43 L116.70,571.12 L116.92,572.90 L117.14,573.20 L117.36,573.91 L117.58,574.39 L117.80,575.12 L117.95,575.56 L118.10,575.77 L118.25,576.32 L118.40,576.29 L118.55,576.82 L118.70,578.82 L118.85,578.75 L119.00,579.33 L119.15,580.19 L119.30,580.62 L119.45,581.47 L119.59,581.42 L119.74,582.34 L119.89,582.45 L120.04,583.72 L120.18,584.01 L120.33,584.74 L120.48,585.50 L120.63,585.39 L120.77,586.11 L120.92,587.17 L121.07,587.66 L121.21,588.35 L121.36,587.31 L121.51,590.00 L121.66,590.89 L121.80,590.54 L121.95,591.21 L122.10,592.26 L122.25,593.06 L122.40,592.61 L122.54,593.48 L122.69,594.68 L122.84,595.41 L122.99,595.91 L123.14,596.98 L123.28,596.60 L123.43,597.87 L123.58,597.78 L123.73,598.05 L123.87,599.09 L124.02,599.99 L124.17,600.45 L124.32,601.29 L124.47,601.39 L124.61,601.74 L124.76,602.86 L124.91,603.49 L125.06,604.45 L125.21,605.11 L125.36,606.10 L125.50,605.96 L125.65,606.48 L125.80,607.29 L125.95,608.18 L126.10,608.26 L126.25,608.09 L126.40,609.12 L126.60,609.50 L126.79,610.07 L126.98,611.38 L127.18,612.48 L127.37,612.60 L127.56,612.43 L127.75,613.69 L127.94,614.86 L128.13,615.36 L128.32,615.86 L128.51,616.38 L128.71,616.75 L128.90,617.55 L129.10,618.98 L129.30,619.74 L129.50,619.17 L129.71,619.40 L129.92,620.36 L130.13,620.65 L130.35,622.41 L130.57,621.69 L130.80,622.46 L131.07,622.84 L131.33,623.60 L131.60,624.44 L131.86,624.13 L132.13,625.29 L132.40,626.44 L132.68,627.19 L132.95,627.33 L133.24,627.22 L133.53,628.19 L133.82,627.73 L134.12,629.13 L134.43,630.57 L134.75,630.77 L135.08,630.59 L135.42,631.60 L135.77,631.52 L136.13,632.00 L136.50,632.68 L136.92,633.20 L137.35,632.86 L137.78,634.08 L138.22,634.05 L138.66,634.58 L139.12,635.16 L139.58,634.83 L140.06,635.12 L140.55,636.88 L141.06,636.60 L141.59,636.30 L142.13,636.67 L142.70,637.20 L143.29,637.28 L143.90,637.52 L144.53,637.91 L145.20,638.35 L145.67,639.95 L146.16,638.24 L146.66,638.94 L147.18,639.09 L147.72,639.50 L148.26,640.07 L148.82,639.86 L149.39,640.15 L149.96,641.33 L150.55,640.08 L151.14,641.18 L151.74,641.38 L152.35,641.70 L152.96,640.23 L153.57,640.29 L154.18,641.64 L154.79,642.42 L155.41,642.15 L156.02,641.69 L156.63,643.02 L157.23,643.54 L157.84,642.20 L158.43,643.01 L159.02,642.78 L159.60,643.07 L160.20,643.55 L160.79,643.64 L161.38,644.19 L161.97,644.90 L162.56,644.21 L163.14,644.55 L163.73,643.89 L164.31,645.54 L164.89,644.93 L165.48,644.85 L166.06,643.98 L166.65,645.96 L167.24,644.93 L167.83,644.86 L168.42,644.86 L169.02,645.14 L169.62,645.07 L170.23,644.96 L170.84,644.71 L171.46,645.12 L172.09,645.04 L172.72,645.17 L173.35,645.28 L174.00,644.91 L174.57,645.70 L175.17,644.64 L175.78,644.84 L176.42,646.14 L177.08,646.16 L177.74,644.94 L178.43,645.11 L179.11,646.57 L179.81,646.37 L180.51,646.41 L181.21,646.13 L181.91,646.71 L182.61,646.76 L183.30,645.81 L183.98,646.04 L184.65,646.89 L185.30,646.66 L185.94,647.30 L186.56,646.22 L187.15,647.24 L187.73,646.73 L188.27,647.12 L188.78,647.22 L189.26,646.61 L189.71,646.78 L190.11,647.23 L190.48,646.90 L190.80,646.38" fill="none" stroke="#111" stroke-width="1.3" stroke-linejoin="round"/>
<text x="138.0" y="547.4" font-size="11" font-family='"Liberation Serif", serif' ><tspan font-weight="bold">Lyn</tspan> -/-</text>
<text x="146.6" y="633.1" font-size="11" font-weight="bold" font-family='"Liberation Serif", serif' text-anchor="start" >WT</text>
<path d="M248.70,537.00 L256.50,537.00" fill="none" stroke="#111" stroke-width="1.3" stroke-linejoin="round"/>
<path d="M256.50,523.40 L256.50,538.20 L260.10,538.20 L260.10,523.40" fill="none" stroke="#111" stroke-width="1.0" stroke-linejoin="round"/>
<path d="M260.10,538.20 L263.70,539.30" fill="none" stroke="#111" stroke-width="1.2" stroke-linejoin="round"/>
<path d="M262.20,539.56 L262.29,540.11 L262.39,540.38 L262.51,540.63 L262.65,541.25 L262.79,542.06 L262.95,542.67 L263.12,543.44 L263.29,543.48 L263.47,544.36 L263.66,545.05 L263.84,546.28 L264.03,547.16 L264.22,546.59 L264.40,548.20 L264.55,548.59 L264.70,549.00 L264.85,550.06 L265.00,550.09 L265.16,551.07 L265.32,551.27 L265.47,552.46 L265.64,552.65 L265.80,553.24 L265.97,553.58 L266.14,554.62 L266.32,555.49 L266.51,556.03 L266.70,556.46 L266.89,556.94 L267.09,556.93 L267.30,558.01 L267.48,558.83 L267.67,559.28 L267.87,559.74 L268.07,560.43 L268.28,561.53 L268.49,561.61 L268.70,562.46 L268.92,562.90 L269.14,562.88 L269.36,564.40 L269.59,564.41 L269.81,565.36 L270.04,565.86 L270.27,565.99 L270.49,566.89 L270.72,567.45 L270.94,568.00 L271.16,568.34 L271.38,569.14 L271.60,569.24 L271.87,570.02 L272.14,570.79 L272.41,571.21 L272.68,572.09 L272.94,572.36 L273.21,573.11 L273.48,573.75 L273.75,573.76 L274.02,575.12 L274.29,575.32 L274.56,575.64 L274.82,576.04 L275.09,576.95 L275.36,577.01 L275.63,577.85 L275.90,578.15 L276.14,578.90 L276.38,579.35 L276.62,579.91 L276.86,580.53 L277.10,581.12 L277.34,581.73 L277.59,582.21 L277.83,582.34 L278.07,582.86 L278.31,584.01 L278.55,584.20 L278.79,584.63 L279.03,585.23 L279.26,585.97 L279.50,586.99 L279.74,587.40 L279.97,587.76 L280.20,588.40 L280.40,588.78 L280.60,589.24 L280.80,590.34 L281.01,590.89 L281.21,591.17 L281.41,591.62 L281.62,592.43 L281.82,592.90 L282.02,593.65 L282.23,594.40 L282.42,594.75 L282.62,595.44 L282.81,595.95 L283.00,596.41 L283.19,597.25 L283.37,597.57 L283.55,598.45 L283.72,598.83 L283.89,599.22 L284.05,600.57 L284.20,600.26 L284.39,601.13 L284.57,602.09 L284.74,602.49 L284.90,603.19 L285.05,603.49 L285.20,604.05 L285.34,604.95 L285.47,605.28 L285.61,606.13 L285.73,606.14 L285.86,606.80 L285.99,607.97 L286.11,608.31 L286.24,608.48 L286.37,609.54 L286.50,610.17 L286.64,610.41 L286.76,610.97 L286.88,611.94 L287.00,612.47 L287.11,612.88 L287.22,613.64 L287.33,614.13 L287.44,614.24 L287.56,615.43 L287.68,615.75 L287.82,616.55 L287.96,616.93 L288.13,617.72 L288.30,618.57 L288.50,618.87 L288.65,619.68 L288.80,619.95 L288.96,620.02 L289.13,620.85 L289.31,621.64 L289.49,622.46 L289.67,622.82 L289.87,623.16 L290.06,624.35 L290.26,625.16 L290.46,625.46 L290.67,626.08 L290.87,626.59 L291.08,627.24 L291.29,627.92 L291.50,628.57 L291.70,629.11 L291.91,629.35 L292.11,630.10 L292.31,630.44 L292.51,631.26 L292.70,631.74 L292.98,632.33 L293.24,632.85 L293.50,633.82 L293.76,634.30 L294.02,634.98 L294.27,635.13 L294.53,636.10 L294.79,636.51 L295.06,637.34 L295.34,638.25 L295.62,638.46 L295.92,638.74 L296.23,639.08 L296.56,639.47 L296.90,640.28 L297.31,641.20 L297.72,641.82 L298.14,641.34 L298.57,642.05 L299.01,642.71 L299.47,643.01 L299.95,643.27 L300.44,643.08 L300.96,643.90 L301.50,644.46 L302.07,644.32 L302.67,644.54 L303.30,645.45 L303.77,645.94 L304.24,646.08 L304.71,646.27 L305.19,646.40 L305.68,646.56 L306.18,647.15 L306.69,647.22 L307.21,647.15 L307.76,647.80 L308.32,647.92 L308.90,647.54 L309.51,648.68 L310.15,648.24 L310.81,648.90 L311.50,648.99 L312.23,649.28 L313.00,649.26 L313.80,649.64 L314.27,649.69 L314.75,650.00 L315.25,650.19 L315.76,649.55 L316.29,650.30 L316.82,650.07 L317.37,650.43 L317.92,650.84 L318.49,650.84 L319.07,650.90 L319.65,650.85 L320.24,651.06 L320.85,651.69 L321.45,650.26 L322.07,650.97 L322.69,651.59 L323.31,651.85 L323.94,651.47 L324.58,651.66 L325.21,651.69 L325.85,651.80 L326.49,651.92 L327.14,651.88 L327.78,652.11 L328.43,652.06 L329.07,651.84 L329.72,652.44 L330.36,652.03 L331.00,652.01 L331.64,652.50 L332.27,652.51 L332.90,652.27 L333.47,652.54 L334.04,653.43 L334.61,652.77 L335.18,652.47 L335.74,652.88 L336.31,652.42 L336.87,652.85 L337.44,652.84 L338.00,653.00 L338.56,653.31 L339.13,652.64 L339.70,653.37 L340.27,652.96 L340.84,652.75 L341.41,653.51 L341.99,653.45 L342.57,653.00 L343.15,653.57 L343.74,653.82 L344.33,653.32 L344.92,653.45 L345.53,654.12 L346.13,653.76 L346.75,653.48 L347.37,653.41 L347.99,653.81 L348.63,653.56 L349.27,653.59 L349.92,653.72 L350.57,653.92 L351.24,654.02 L351.92,653.49 L352.60,653.74 L353.30,654.35 L354.00,654.34 L354.54,653.29 L355.10,654.06 L355.67,654.36 L356.26,653.85 L356.87,653.60 L357.49,654.12 L358.12,654.11 L358.77,654.02 L359.43,654.39 L360.10,654.25 L360.78,654.50 L361.47,655.11 L362.16,654.24 L362.86,654.84 L363.56,654.88 L364.27,654.48 L364.99,654.06 L365.70,654.72 L366.42,654.61 L367.13,654.69 L367.85,654.55 L368.56,654.85 L369.27,654.74 L369.97,654.64 L370.67,655.08 L371.36,654.25 L372.05,655.07 L372.72,654.72 L373.39,654.66 L374.05,654.81 L374.69,654.73 L375.33,655.09 L375.95,654.61 L376.55,654.54 L377.14,654.94 L377.71,655.61 L378.27,655.19 L378.80,654.84 L379.32,655.32 L379.81,654.80 L380.28,655.15 L380.73,655.04 L381.16,654.96 L381.56,655.06 L381.93,655.19 L382.28,654.97 L382.60,655.20" fill="none" stroke="#111" stroke-width="1.25" stroke-linejoin="round"/>
<path d="M263.70,539.30 L263.95,539.58 L264.27,539.92 L264.66,540.31 L265.10,540.77 L265.56,541.27 L266.03,541.83 L266.48,542.44 L266.92,543.10 L267.30,543.80 L267.51,544.25 L267.71,544.73 L267.90,545.23 L268.08,545.76 L268.26,546.31 L268.44,546.87 L268.61,547.45 L268.79,548.05 L268.96,548.66 L269.14,549.27 L269.32,549.89 L269.50,550.52 L269.69,551.15 L269.89,551.77 L270.10,552.40 L270.29,552.95 L270.48,553.51 L270.68,554.07 L270.88,554.64 L271.08,555.22 L271.28,555.80 L271.49,556.38 L271.69,556.97 L271.91,557.57 L272.12,558.17 L272.34,558.77 L272.56,559.38 L272.78,560.00 L273.01,560.61 L273.23,561.24 L273.47,561.87 L273.70,562.50 L273.90,563.05 L274.11,563.60 L274.32,564.16 L274.53,564.73 L274.75,565.31 L274.96,565.89 L275.18,566.48 L275.41,567.07 L275.63,567.66 L275.86,568.25 L276.08,568.84 L276.31,569.43 L276.54,570.02 L276.76,570.61 L276.99,571.19 L277.21,571.77 L277.44,572.34 L277.66,572.90 L277.88,573.45 L278.10,574.00 L278.34,574.59 L278.58,575.18 L278.81,575.75 L279.05,576.32 L279.28,576.88 L279.51,577.43 L279.75,577.98 L279.98,578.53 L280.21,579.07 L280.45,579.62 L280.68,580.16 L280.92,580.71 L281.16,581.26 L281.40,581.82 L281.64,582.38 L281.89,582.94 L282.14,583.52 L282.40,584.10 L282.63,584.63 L282.87,585.18 L283.10,585.73 L283.34,586.29 L283.58,586.85 L283.82,587.42 L284.07,587.99 L284.31,588.57 L284.56,589.14 L284.81,589.72 L285.06,590.29 L285.31,590.86 L285.56,591.43 L285.82,591.99 L286.08,592.55 L286.34,593.10 L286.60,593.64 L286.86,594.17 L287.13,594.69 L287.40,595.20 L287.72,595.79 L288.05,596.37 L288.39,596.95 L288.73,597.53 L289.08,598.10 L289.43,598.66 L289.78,599.22 L290.14,599.76 L290.49,600.30 L290.84,600.83 L291.19,601.34 L291.54,601.85 L291.89,602.35 L292.23,602.83 L292.56,603.30 L292.88,603.76 L293.20,604.20 L293.62,604.78 L294.00,605.30 L294.36,605.77 L294.70,606.21 L295.03,606.63 L295.37,607.03 L295.72,607.44 L296.09,607.87 L296.49,608.32 L296.94,608.82 L297.44,609.38 L298.00,610.00 L298.32,610.35 L298.65,610.72 L299.00,611.10 L299.36,611.50 L299.73,611.90 L300.12,612.32 L300.51,612.74 L300.91,613.18 L301.33,613.62 L301.75,614.07 L302.17,614.52 L302.60,614.98 L303.04,615.44 L303.48,615.91 L303.93,616.38 L304.38,616.85 L304.83,617.32 L305.27,617.79 L305.72,618.26 L306.17,618.73 L306.62,619.19 L307.06,619.65 L307.50,620.10 L307.92,620.53 L308.34,620.97 L308.77,621.42 L309.20,621.86 L309.64,622.31 L310.07,622.77 L310.51,623.22 L310.95,623.68 L311.39,624.14 L311.84,624.59 L312.28,625.05 L312.73,625.51 L313.18,625.96 L313.63,626.41 L314.08,626.86 L314.53,627.31 L314.98,627.75 L315.42,628.19 L315.87,628.63 L316.32,629.05 L316.77,629.48 L317.21,629.89 L317.66,630.30 L318.10,630.70 L318.58,631.13 L319.06,631.56 L319.53,631.98 L320.00,632.40 L320.47,632.81 L320.94,633.22 L321.40,633.63 L321.87,634.03 L322.34,634.43 L322.81,634.82 L323.28,635.21 L323.75,635.59 L324.22,635.97 L324.70,636.34 L325.18,636.70 L325.66,637.06 L326.16,637.42 L326.65,637.77 L327.15,638.11 L327.66,638.45 L328.18,638.78 L328.70,639.10 L329.21,639.40 L329.72,639.70 L330.24,639.99 L330.77,640.28 L331.30,640.56 L331.84,640.84 L332.38,641.11 L332.93,641.37 L333.48,641.63 L334.03,641.89 L334.59,642.14 L335.15,642.38 L335.71,642.63 L336.27,642.86 L336.83,643.09 L337.39,643.32 L337.96,643.54 L338.52,643.76 L339.08,643.98 L339.64,644.19 L340.19,644.40 L340.75,644.60 L341.30,644.80 L341.90,645.01 L342.50,645.22 L343.09,645.42 L343.68,645.61 L344.27,645.80 L344.86,645.98 L345.44,646.16 L346.03,646.33 L346.62,646.50 L347.21,646.66 L347.80,646.82 L348.40,646.97 L349.00,647.12 L349.60,647.26 L350.21,647.40 L350.82,647.54 L351.44,647.68 L352.07,647.81 L352.70,647.94 L353.35,648.07 L354.00,648.20 L354.56,648.30 L355.12,648.41 L355.69,648.51 L356.27,648.60 L356.86,648.70 L357.45,648.79 L358.05,648.87 L358.65,648.96 L359.25,649.04 L359.86,649.13 L360.47,649.20 L361.08,649.28 L361.69,649.36 L362.31,649.43 L362.92,649.50 L363.53,649.57 L364.14,649.63 L364.75,649.70 L365.36,649.76 L365.96,649.82 L366.56,649.88 L367.15,649.94 L367.74,649.99 L368.32,650.05 L368.90,650.10 L369.56,650.16 L370.24,650.21 L370.94,650.26 L371.65,650.31 L372.37,650.35 L373.09,650.40 L373.82,650.44 L374.55,650.47 L375.27,650.51 L375.98,650.54 L376.68,650.57 L377.37,650.60 L378.03,650.62 L378.68,650.65 L379.30,650.67 L379.88,650.69 L380.44,650.71 L380.96,650.73 L381.44,650.75 L381.87,650.77 L382.26,650.78 L382.60,650.80" fill="none" stroke="#111" stroke-width="1.15" stroke-linejoin="round"/>
<text x="321.0" y="622.2" font-size="11" font-family='"Liberation Serif", serif' ><tspan font-weight="bold">Lyn</tspan> -/-</text>
<text x="274.6" y="650.6" font-size="11" font-weight="bold" font-family='"Liberation Serif", serif' text-anchor="start" >WT</text>
</svg>
</body></html>
